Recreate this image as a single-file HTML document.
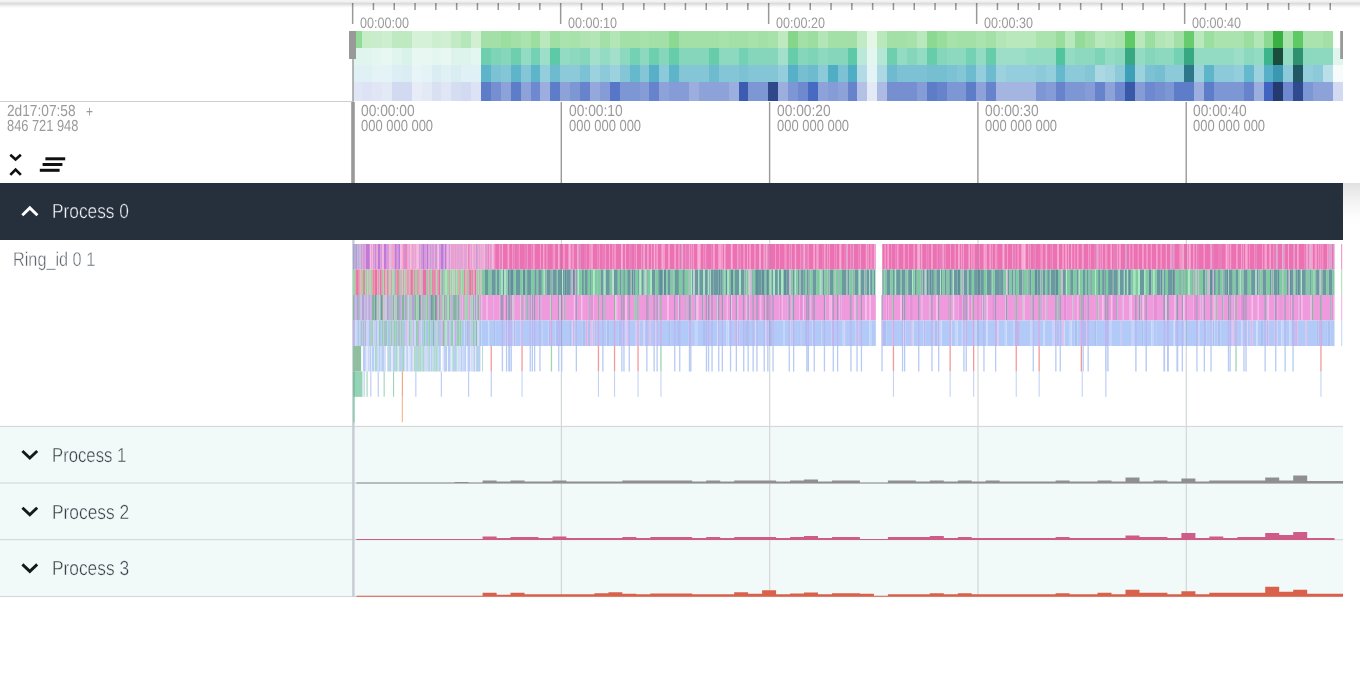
<!DOCTYPE html>
<html lang="en">
<head>
<meta charset="utf-8">
<title>Trace viewer</title>
<style>
html,body{margin:0;padding:0;background:#fff;overflow:hidden;}
body{width:1360px;height:681px;position:relative;overflow:hidden;font-family:"Liberation Sans",sans-serif;text-rendering:geometricPrecision;}
.lb{position:absolute;white-space:nowrap;transform-origin:0 50%;letter-spacing:0;}
.panel{position:absolute;left:0;width:1343px;}
#overview{top:0;height:102px;background:#fff;}
#ovborder{position:absolute;left:0;top:101px;width:352px;height:1px;background:#cfcfcf;}
#timeaxis{top:102px;height:81px;background:#fff;}
#group0{top:183px;height:57px;background:#262f3c;}
#ring{top:240px;height:186px;background:#fff;}
.grp{height:57px;background:#f2faf9;}
#group1{top:426px;}
#group2{top:483px;}
#group3{top:540px;}
#topshadow{position:absolute;left:0;top:0;width:1360px;height:9px;pointer-events:none;
 background:linear-gradient(to bottom,#f4f4f4 0px,#f1f1f1 1.5px,#e6e6e6 2.5px,#dcdcdc 3.5px,#e3e3e3 4.5px,#ededed 5.5px,#f6f6f6 6.5px,#fcfcfc 7.5px,#fff 9px);mix-blend-mode:multiply;}
#sideshadow{position:absolute;left:1343px;top:183px;width:17px;height:40px;background:linear-gradient(to bottom,#e1e1e1 0,#eaeaea 8px,#f4f4f4 20px,#fbfbfb 30px,#fff 40px);}
svg{position:absolute;left:0;top:0;overflow:visible;}
#gfx{pointer-events:none;}
.shell{position:absolute;left:0;top:0;width:352px;height:100%;}
</style>
</head>
<body>
<div id="overview" class="panel">
<div id="ovborder"></div>
<div class="lb ovl" style="left:360.10px;top:15px;font-size:15.0px;line-height:17px;height:17px;color:#9a9a9a;transform:scaleX(0.8399);">00:00:00</div>
<div class="lb ovl" style="left:568.10px;top:15px;font-size:15.0px;line-height:17px;height:17px;color:#9a9a9a;transform:scaleX(0.8399);">00:00:10</div>
<div class="lb ovl" style="left:776.10px;top:15px;font-size:15.0px;line-height:17px;height:17px;color:#9a9a9a;transform:scaleX(0.8399);">00:00:20</div>
<div class="lb ovl" style="left:984.10px;top:15px;font-size:15.0px;line-height:17px;height:17px;color:#9a9a9a;transform:scaleX(0.8399);">00:00:30</div>
<div class="lb ovl" style="left:1192.10px;top:15px;font-size:15.0px;line-height:17px;height:17px;color:#9a9a9a;transform:scaleX(0.8399);">00:00:40</div>
</div>
<div id="timeaxis" class="panel">
<div class="shell">
<div class="lb " style="left:7.22px;top:1px;font-size:16.0px;line-height:17px;height:17px;color:#9a9a9a;transform:scaleX(0.8558);">2d17:07:58</div>
<div class="lb " style="left:85.60px;top:2px;font-size:16.0px;line-height:17px;height:17px;color:#9a9a9a;transform:scaleX(0.7474);">+</div>
<div class="lb " style="left:7.32px;top:16px;font-size:16.0px;line-height:17px;height:17px;color:#9a9a9a;transform:scaleX(0.8014);">846 721 948</div>
</div>
</div>
<div id="group0" class="panel"><div class="shell"><div class="lb ttl" style="left:52.21px;top:18px;font-size:20.3px;line-height:22px;height:22px;color:#f2f4f6;transform:scaleX(0.8531);-webkit-text-stroke:0.4px #262f3c;">Process 0</div></div></div>
<div id="ring" class="panel"><div class="shell"><div class="lb ttl" style="left:12.60px;top:9px;font-size:20.0px;line-height:22px;height:22px;color:#5d666f;transform:scaleX(0.8124);-webkit-text-stroke:0.4px #fff;">Ring_id 0 1</div></div></div>
<div id="group1" class="panel grp"><div class="shell"><div class="lb ttl" style="left:52.26px;top:19px;font-size:20.3px;line-height:22px;height:22px;color:#364047;transform:scaleX(0.8243);-webkit-text-stroke:0.4px #f2faf9;">Process 1</div></div></div>
<div id="group2" class="panel grp"><div class="shell"><div class="lb ttl" style="left:52.21px;top:19px;font-size:20.3px;line-height:22px;height:22px;color:#364047;transform:scaleX(0.8551);-webkit-text-stroke:0.4px #f2faf9;">Process 2</div></div></div>
<div id="group3" class="panel grp"><div class="shell"><div class="lb ttl" style="left:52.21px;top:18px;font-size:20.3px;line-height:22px;height:22px;color:#364047;transform:scaleX(0.8541);-webkit-text-stroke:0.4px #f2faf9;">Process 3</div></div></div>
<div id="sideshadow"></div>
<div id="talabels">
<div class="lb tal" style="left:361.05px;top:103px;font-size:16.0px;line-height:17px;height:17px;color:#9a9a9a;transform:scaleX(0.8612);">00:00:00</div>
<div class="lb tal" style="left:361.08px;top:118px;font-size:16.0px;line-height:17px;height:17px;color:#9a9a9a;transform:scaleX(0.8098);">000 000 000</div>
<div class="lb tal" style="left:569.05px;top:103px;font-size:16.0px;line-height:17px;height:17px;color:#9a9a9a;transform:scaleX(0.8612);">00:00:10</div>
<div class="lb tal" style="left:569.08px;top:118px;font-size:16.0px;line-height:17px;height:17px;color:#9a9a9a;transform:scaleX(0.8098);">000 000 000</div>
<div class="lb tal" style="left:777.05px;top:103px;font-size:16.0px;line-height:17px;height:17px;color:#9a9a9a;transform:scaleX(0.8612);">00:00:20</div>
<div class="lb tal" style="left:777.08px;top:118px;font-size:16.0px;line-height:17px;height:17px;color:#9a9a9a;transform:scaleX(0.8098);">000 000 000</div>
<div class="lb tal" style="left:985.05px;top:103px;font-size:16.0px;line-height:17px;height:17px;color:#9a9a9a;transform:scaleX(0.8612);">00:00:30</div>
<div class="lb tal" style="left:985.08px;top:118px;font-size:16.0px;line-height:17px;height:17px;color:#9a9a9a;transform:scaleX(0.8098);">000 000 000</div>
<div class="lb tal" style="left:1193.05px;top:103px;font-size:16.0px;line-height:17px;height:17px;color:#9a9a9a;transform:scaleX(0.8612);">00:00:40</div>
<div class="lb tal" style="left:1193.08px;top:118px;font-size:16.0px;line-height:17px;height:17px;color:#9a9a9a;transform:scaleX(0.8098);">000 000 000</div>
</div>
<svg id="gfx" width="1360" height="681" viewBox="0 0 1360 681">
<!-- overview ticks -->
<g id="ticks">
<rect x="351.9" y="3" width="1.5" height="21" fill="#999"/>
<rect x="372.7" y="3" width="1.5" height="7" fill="#999"/>
<rect x="393.5" y="3" width="1.5" height="7" fill="#999"/>
<rect x="414.3" y="3" width="1.5" height="7" fill="#999"/>
<rect x="435.1" y="3" width="1.5" height="7" fill="#999"/>
<rect x="455.9" y="3" width="1.5" height="7" fill="#999"/>
<rect x="476.7" y="3" width="1.5" height="7" fill="#999"/>
<rect x="497.5" y="3" width="1.5" height="7" fill="#999"/>
<rect x="518.3" y="3" width="1.5" height="7" fill="#999"/>
<rect x="539.1" y="3" width="1.5" height="7" fill="#999"/>
<rect x="559.9" y="3" width="1.5" height="21" fill="#999"/>
<rect x="580.7" y="3" width="1.5" height="7" fill="#999"/>
<rect x="601.5" y="3" width="1.5" height="7" fill="#999"/>
<rect x="622.3" y="3" width="1.5" height="7" fill="#999"/>
<rect x="643.1" y="3" width="1.5" height="7" fill="#999"/>
<rect x="663.9" y="3" width="1.5" height="7" fill="#999"/>
<rect x="684.7" y="3" width="1.5" height="7" fill="#999"/>
<rect x="705.5" y="3" width="1.5" height="7" fill="#999"/>
<rect x="726.3" y="3" width="1.5" height="7" fill="#999"/>
<rect x="747.1" y="3" width="1.5" height="7" fill="#999"/>
<rect x="767.9" y="3" width="1.5" height="21" fill="#999"/>
<rect x="788.7" y="3" width="1.5" height="7" fill="#999"/>
<rect x="809.5" y="3" width="1.5" height="7" fill="#999"/>
<rect x="830.3" y="3" width="1.5" height="7" fill="#999"/>
<rect x="851.1" y="3" width="1.5" height="7" fill="#999"/>
<rect x="871.9" y="3" width="1.5" height="7" fill="#999"/>
<rect x="892.7" y="3" width="1.5" height="7" fill="#999"/>
<rect x="913.5" y="3" width="1.5" height="7" fill="#999"/>
<rect x="934.3" y="3" width="1.5" height="7" fill="#999"/>
<rect x="955.1" y="3" width="1.5" height="7" fill="#999"/>
<rect x="975.9" y="3" width="1.5" height="21" fill="#999"/>
<rect x="996.7" y="3" width="1.5" height="7" fill="#999"/>
<rect x="1017.5" y="3" width="1.5" height="7" fill="#999"/>
<rect x="1038.3" y="3" width="1.5" height="7" fill="#999"/>
<rect x="1059.1" y="3" width="1.5" height="7" fill="#999"/>
<rect x="1079.9" y="3" width="1.5" height="7" fill="#999"/>
<rect x="1100.7" y="3" width="1.5" height="7" fill="#999"/>
<rect x="1121.5" y="3" width="1.5" height="7" fill="#999"/>
<rect x="1142.3" y="3" width="1.5" height="7" fill="#999"/>
<rect x="1163.1" y="3" width="1.5" height="7" fill="#999"/>
<rect x="1183.9" y="3" width="1.5" height="21" fill="#999"/>
<rect x="1204.7" y="3" width="1.5" height="7" fill="#999"/>
<rect x="1225.5" y="3" width="1.5" height="7" fill="#999"/>
<rect x="1246.3" y="3" width="1.5" height="7" fill="#999"/>
<rect x="1267.1" y="3" width="1.5" height="7" fill="#999"/>
<rect x="1287.9" y="3" width="1.5" height="7" fill="#999"/>
<rect x="1308.7" y="3" width="1.5" height="7" fill="#999"/>
<rect x="1329.5" y="3" width="1.5" height="7" fill="#999"/>
</g>
<!-- overview heat map -->
<g id="heat" shape-rendering="crispEdges">
<rect x="353" y="31" width="9" height="17.0" fill="hsl(124,50%,72%)"/>
<rect x="362" y="31" width="10" height="17.0" fill="hsl(124,50%,85%)"/>
<rect x="372" y="31" width="10" height="17.0" fill="hsl(124,50%,86%)"/>
<rect x="382" y="31" width="10" height="17.0" fill="hsl(124,50%,87%)"/>
<rect x="392" y="31" width="10" height="17.0" fill="hsl(124,50%,83%)"/>
<rect x="402" y="31" width="10" height="17.0" fill="hsl(124,50%,83%)"/>
<rect x="412" y="31" width="10" height="17.0" fill="hsl(124,50%,89%)"/>
<rect x="422" y="31" width="10" height="17.0" fill="hsl(124,50%,89%)"/>
<rect x="432" y="31" width="9" height="17.0" fill="hsl(124,50%,87%)"/>
<rect x="441" y="31" width="10" height="17.0" fill="hsl(124,50%,88%)"/>
<rect x="451" y="31" width="10" height="17.0" fill="hsl(124,50%,84%)"/>
<rect x="461" y="31" width="10" height="17.0" fill="hsl(124,50%,81%)"/>
<rect x="471" y="31" width="10" height="17.0" fill="hsl(124,50%,88%)"/>
<rect x="481" y="31" width="10" height="17.0" fill="hsl(124,50%,76%)"/>
<rect x="491" y="31" width="10" height="17.0" fill="hsl(124,50%,76%)"/>
<rect x="501" y="31" width="10" height="17.0" fill="hsl(124,50%,74%)"/>
<rect x="511" y="31" width="10" height="17.0" fill="hsl(124,50%,76%)"/>
<rect x="521" y="31" width="10" height="17.0" fill="hsl(124,50%,78%)"/>
<rect x="531" y="31" width="9" height="17.0" fill="hsl(124,50%,74%)"/>
<rect x="540" y="31" width="10" height="17.0" fill="hsl(124,50%,82%)"/>
<rect x="550" y="31" width="10" height="17.0" fill="hsl(124,50%,75%)"/>
<rect x="560" y="31" width="10" height="17.0" fill="hsl(124,50%,78%)"/>
<rect x="570" y="31" width="10" height="17.0" fill="hsl(124,50%,77%)"/>
<rect x="580" y="31" width="10" height="17.0" fill="hsl(124,50%,79%)"/>
<rect x="590" y="31" width="10" height="17.0" fill="hsl(124,50%,80%)"/>
<rect x="600" y="31" width="10" height="17.0" fill="hsl(124,50%,76%)"/>
<rect x="610" y="31" width="10" height="17.0" fill="hsl(124,50%,80%)"/>
<rect x="620" y="31" width="10" height="17.0" fill="hsl(124,50%,76%)"/>
<rect x="630" y="31" width="10" height="17.0" fill="hsl(124,50%,76%)"/>
<rect x="640" y="31" width="9" height="17.0" fill="hsl(124,50%,77%)"/>
<rect x="649" y="31" width="10" height="17.0" fill="hsl(124,50%,76%)"/>
<rect x="659" y="31" width="10" height="17.0" fill="hsl(124,50%,76%)"/>
<rect x="669" y="31" width="10" height="17.0" fill="hsl(124,50%,70%)"/>
<rect x="679" y="31" width="10" height="17.0" fill="hsl(124,50%,76%)"/>
<rect x="689" y="31" width="10" height="17.0" fill="hsl(124,50%,76%)"/>
<rect x="699" y="31" width="10" height="17.0" fill="hsl(124,50%,76%)"/>
<rect x="709" y="31" width="10" height="17.0" fill="hsl(124,50%,76%)"/>
<rect x="719" y="31" width="10" height="17.0" fill="hsl(124,50%,77%)"/>
<rect x="729" y="31" width="10" height="17.0" fill="hsl(124,50%,76%)"/>
<rect x="739" y="31" width="9" height="17.0" fill="hsl(124,50%,76%)"/>
<rect x="748" y="31" width="10" height="17.0" fill="hsl(124,50%,77%)"/>
<rect x="758" y="31" width="10" height="17.0" fill="hsl(124,50%,76%)"/>
<rect x="768" y="31" width="10" height="17.0" fill="hsl(124,50%,77%)"/>
<rect x="778" y="31" width="10" height="17.0" fill="hsl(124,50%,83%)"/>
<rect x="788" y="31" width="10" height="17.0" fill="hsl(124,50%,68%)"/>
<rect x="798" y="31" width="10" height="17.0" fill="hsl(124,50%,76%)"/>
<rect x="808" y="31" width="10" height="17.0" fill="hsl(124,50%,74%)"/>
<rect x="818" y="31" width="10" height="17.0" fill="hsl(124,50%,80%)"/>
<rect x="828" y="31" width="10" height="17.0" fill="hsl(124,50%,76%)"/>
<rect x="838" y="31" width="10" height="17.0" fill="hsl(124,50%,76%)"/>
<rect x="848" y="31" width="9" height="17.0" fill="hsl(124,50%,76%)"/>
<rect x="857" y="31" width="10" height="17.0" fill="hsl(124,50%,84%)"/>
<rect x="867" y="31" width="10" height="17.0" fill="hsl(124,50%,93%)"/>
<rect x="877" y="31" width="10" height="17.0" fill="hsl(124,50%,82%)"/>
<rect x="887" y="31" width="10" height="17.0" fill="hsl(124,50%,76%)"/>
<rect x="897" y="31" width="10" height="17.0" fill="hsl(124,50%,76%)"/>
<rect x="907" y="31" width="10" height="17.0" fill="hsl(124,50%,77%)"/>
<rect x="917" y="31" width="10" height="17.0" fill="hsl(124,50%,82%)"/>
<rect x="927" y="31" width="10" height="17.0" fill="hsl(124,50%,70%)"/>
<rect x="937" y="31" width="10" height="17.0" fill="hsl(124,50%,73%)"/>
<rect x="947" y="31" width="10" height="17.0" fill="hsl(124,50%,77%)"/>
<rect x="957" y="31" width="9" height="17.0" fill="hsl(124,50%,76%)"/>
<rect x="966" y="31" width="10" height="17.0" fill="hsl(124,50%,76%)"/>
<rect x="976" y="31" width="10" height="17.0" fill="hsl(124,50%,78%)"/>
<rect x="986" y="31" width="10" height="17.0" fill="hsl(124,50%,76%)"/>
<rect x="996" y="31" width="10" height="17.0" fill="hsl(124,50%,80%)"/>
<rect x="1006" y="31" width="10" height="17.0" fill="hsl(124,50%,82%)"/>
<rect x="1016" y="31" width="10" height="17.0" fill="hsl(124,50%,82%)"/>
<rect x="1026" y="31" width="10" height="17.0" fill="hsl(124,50%,82%)"/>
<rect x="1036" y="31" width="10" height="17.0" fill="hsl(124,50%,78%)"/>
<rect x="1046" y="31" width="10" height="17.0" fill="hsl(124,50%,78%)"/>
<rect x="1056" y="31" width="9" height="17.0" fill="hsl(124,50%,73%)"/>
<rect x="1065" y="31" width="10" height="17.0" fill="hsl(124,50%,82%)"/>
<rect x="1075" y="31" width="10" height="17.0" fill="hsl(124,50%,72%)"/>
<rect x="1085" y="31" width="10" height="17.0" fill="hsl(124,50%,76%)"/>
<rect x="1095" y="31" width="10" height="17.0" fill="hsl(124,50%,82%)"/>
<rect x="1105" y="31" width="10" height="17.0" fill="hsl(124,50%,80%)"/>
<rect x="1115" y="31" width="10" height="17.0" fill="hsl(124,50%,78%)"/>
<rect x="1125" y="31" width="10" height="17.0" fill="hsl(124,50%,58%)"/>
<rect x="1135" y="31" width="10" height="17.0" fill="hsl(124,50%,82%)"/>
<rect x="1145" y="31" width="10" height="17.0" fill="hsl(124,50%,74%)"/>
<rect x="1155" y="31" width="10" height="17.0" fill="hsl(124,50%,80%)"/>
<rect x="1165" y="31" width="9" height="17.0" fill="hsl(124,50%,82%)"/>
<rect x="1174" y="31" width="10" height="17.0" fill="hsl(124,50%,76%)"/>
<rect x="1184" y="31" width="10" height="17.0" fill="hsl(124,50%,60%)"/>
<rect x="1194" y="31" width="10" height="17.0" fill="hsl(124,50%,82%)"/>
<rect x="1204" y="31" width="10" height="17.0" fill="hsl(124,50%,74%)"/>
<rect x="1214" y="31" width="10" height="17.0" fill="hsl(124,50%,78%)"/>
<rect x="1224" y="31" width="10" height="17.0" fill="hsl(124,50%,78%)"/>
<rect x="1234" y="31" width="10" height="17.0" fill="hsl(124,50%,78%)"/>
<rect x="1244" y="31" width="10" height="17.0" fill="hsl(124,50%,74%)"/>
<rect x="1254" y="31" width="10" height="17.0" fill="hsl(124,50%,80%)"/>
<rect x="1264" y="31" width="9" height="17.0" fill="hsl(124,50%,70%)"/>
<rect x="1273" y="31" width="10" height="17.0" fill="hsl(124,50%,46%)"/>
<rect x="1283" y="31" width="10" height="17.0" fill="hsl(124,50%,78%)"/>
<rect x="1293" y="31" width="10" height="17.0" fill="hsl(124,50%,58%)"/>
<rect x="1303" y="31" width="10" height="17.0" fill="hsl(124,50%,78%)"/>
<rect x="1313" y="31" width="10" height="17.0" fill="hsl(124,50%,78%)"/>
<rect x="1323" y="31" width="10" height="17.0" fill="hsl(124,50%,76%)"/>
<rect x="1333" y="31" width="10" height="17.0" fill="hsl(124,50%,99%)"/>
<rect x="353" y="48" width="9" height="17.0" fill="hsl(160,50%,92%)"/>
<rect x="362" y="48" width="10" height="17.0" fill="hsl(160,50%,92%)"/>
<rect x="372" y="48" width="10" height="17.0" fill="hsl(160,50%,93%)"/>
<rect x="382" y="48" width="10" height="17.0" fill="hsl(160,50%,94%)"/>
<rect x="392" y="48" width="10" height="17.0" fill="hsl(160,50%,92%)"/>
<rect x="402" y="48" width="10" height="17.0" fill="hsl(160,50%,90%)"/>
<rect x="412" y="48" width="10" height="17.0" fill="hsl(160,50%,94%)"/>
<rect x="422" y="48" width="10" height="17.0" fill="hsl(160,50%,94%)"/>
<rect x="432" y="48" width="9" height="17.0" fill="hsl(160,50%,93%)"/>
<rect x="441" y="48" width="10" height="17.0" fill="hsl(160,50%,94%)"/>
<rect x="451" y="48" width="10" height="17.0" fill="hsl(160,50%,91%)"/>
<rect x="461" y="48" width="10" height="17.0" fill="hsl(160,50%,91%)"/>
<rect x="471" y="48" width="10" height="17.0" fill="hsl(160,50%,93%)"/>
<rect x="481" y="48" width="10" height="17.0" fill="hsl(160,50%,62%)"/>
<rect x="491" y="48" width="10" height="17.0" fill="hsl(160,50%,66%)"/>
<rect x="501" y="48" width="10" height="17.0" fill="hsl(160,50%,68%)"/>
<rect x="511" y="48" width="10" height="17.0" fill="hsl(160,50%,62%)"/>
<rect x="521" y="48" width="10" height="17.0" fill="hsl(160,50%,72%)"/>
<rect x="531" y="48" width="9" height="17.0" fill="hsl(160,50%,64%)"/>
<rect x="540" y="48" width="10" height="17.0" fill="hsl(160,50%,74%)"/>
<rect x="550" y="48" width="10" height="17.0" fill="hsl(160,50%,58%)"/>
<rect x="560" y="48" width="10" height="17.0" fill="hsl(160,50%,72%)"/>
<rect x="570" y="48" width="10" height="17.0" fill="hsl(160,50%,70%)"/>
<rect x="580" y="48" width="10" height="17.0" fill="hsl(160,50%,68%)"/>
<rect x="590" y="48" width="10" height="17.0" fill="hsl(160,50%,76%)"/>
<rect x="600" y="48" width="10" height="17.0" fill="hsl(160,50%,72%)"/>
<rect x="610" y="48" width="10" height="17.0" fill="hsl(160,50%,76%)"/>
<rect x="620" y="48" width="10" height="17.0" fill="hsl(160,50%,70%)"/>
<rect x="630" y="48" width="10" height="17.0" fill="hsl(160,50%,64%)"/>
<rect x="640" y="48" width="9" height="17.0" fill="hsl(160,50%,70%)"/>
<rect x="649" y="48" width="10" height="17.0" fill="hsl(160,50%,62%)"/>
<rect x="659" y="48" width="10" height="17.0" fill="hsl(160,50%,68%)"/>
<rect x="669" y="48" width="10" height="17.0" fill="hsl(160,50%,60%)"/>
<rect x="679" y="48" width="10" height="17.0" fill="hsl(160,50%,68%)"/>
<rect x="689" y="48" width="10" height="17.0" fill="hsl(160,50%,68%)"/>
<rect x="699" y="48" width="10" height="17.0" fill="hsl(160,50%,68%)"/>
<rect x="709" y="48" width="10" height="17.0" fill="hsl(160,50%,60%)"/>
<rect x="719" y="48" width="10" height="17.0" fill="hsl(160,50%,70%)"/>
<rect x="729" y="48" width="10" height="17.0" fill="hsl(160,50%,70%)"/>
<rect x="739" y="48" width="9" height="17.0" fill="hsl(160,50%,64%)"/>
<rect x="748" y="48" width="10" height="17.0" fill="hsl(160,50%,68%)"/>
<rect x="758" y="48" width="10" height="17.0" fill="hsl(160,50%,68%)"/>
<rect x="768" y="48" width="10" height="17.0" fill="hsl(160,50%,68%)"/>
<rect x="778" y="48" width="10" height="17.0" fill="hsl(160,50%,76%)"/>
<rect x="788" y="48" width="10" height="17.0" fill="hsl(160,50%,60%)"/>
<rect x="798" y="48" width="10" height="17.0" fill="hsl(160,50%,68%)"/>
<rect x="808" y="48" width="10" height="17.0" fill="hsl(160,50%,66%)"/>
<rect x="818" y="48" width="10" height="17.0" fill="hsl(160,50%,70%)"/>
<rect x="828" y="48" width="10" height="17.0" fill="hsl(160,50%,68%)"/>
<rect x="838" y="48" width="10" height="17.0" fill="hsl(160,50%,68%)"/>
<rect x="848" y="48" width="9" height="17.0" fill="hsl(160,50%,58%)"/>
<rect x="857" y="48" width="10" height="17.0" fill="hsl(160,50%,82%)"/>
<rect x="867" y="48" width="10" height="17.0" fill="hsl(160,50%,93%)"/>
<rect x="877" y="48" width="10" height="17.0" fill="hsl(160,50%,80%)"/>
<rect x="887" y="48" width="10" height="17.0" fill="hsl(160,50%,62%)"/>
<rect x="897" y="48" width="10" height="17.0" fill="hsl(160,50%,72%)"/>
<rect x="907" y="48" width="10" height="17.0" fill="hsl(160,50%,68%)"/>
<rect x="917" y="48" width="10" height="17.0" fill="hsl(160,50%,72%)"/>
<rect x="927" y="48" width="10" height="17.0" fill="hsl(160,50%,60%)"/>
<rect x="937" y="48" width="10" height="17.0" fill="hsl(160,50%,68%)"/>
<rect x="947" y="48" width="10" height="17.0" fill="hsl(160,50%,70%)"/>
<rect x="957" y="48" width="9" height="17.0" fill="hsl(160,50%,70%)"/>
<rect x="966" y="48" width="10" height="17.0" fill="hsl(160,50%,64%)"/>
<rect x="976" y="48" width="10" height="17.0" fill="hsl(160,50%,72%)"/>
<rect x="986" y="48" width="10" height="17.0" fill="hsl(160,50%,60%)"/>
<rect x="996" y="48" width="10" height="17.0" fill="hsl(160,50%,74%)"/>
<rect x="1006" y="48" width="10" height="17.0" fill="hsl(160,50%,74%)"/>
<rect x="1016" y="48" width="10" height="17.0" fill="hsl(160,50%,74%)"/>
<rect x="1026" y="48" width="10" height="17.0" fill="hsl(160,50%,72%)"/>
<rect x="1036" y="48" width="10" height="17.0" fill="hsl(160,50%,72%)"/>
<rect x="1046" y="48" width="10" height="17.0" fill="hsl(160,50%,72%)"/>
<rect x="1056" y="48" width="9" height="17.0" fill="hsl(160,50%,54%)"/>
<rect x="1065" y="48" width="10" height="17.0" fill="hsl(160,50%,72%)"/>
<rect x="1075" y="48" width="10" height="17.0" fill="hsl(160,50%,70%)"/>
<rect x="1085" y="48" width="10" height="17.0" fill="hsl(160,50%,70%)"/>
<rect x="1095" y="48" width="10" height="17.0" fill="hsl(160,50%,66%)"/>
<rect x="1105" y="48" width="10" height="17.0" fill="hsl(160,50%,72%)"/>
<rect x="1115" y="48" width="10" height="17.0" fill="hsl(160,50%,70%)"/>
<rect x="1125" y="48" width="10" height="17.0" fill="hsl(160,50%,44%)"/>
<rect x="1135" y="48" width="10" height="17.0" fill="hsl(160,50%,72%)"/>
<rect x="1145" y="48" width="10" height="17.0" fill="hsl(160,50%,68%)"/>
<rect x="1155" y="48" width="10" height="17.0" fill="hsl(160,50%,70%)"/>
<rect x="1165" y="48" width="9" height="17.0" fill="hsl(160,50%,70%)"/>
<rect x="1174" y="48" width="10" height="17.0" fill="hsl(160,50%,64%)"/>
<rect x="1184" y="48" width="10" height="17.0" fill="hsl(160,50%,44%)"/>
<rect x="1194" y="48" width="10" height="17.0" fill="hsl(160,50%,72%)"/>
<rect x="1204" y="48" width="10" height="17.0" fill="hsl(160,50%,72%)"/>
<rect x="1214" y="48" width="10" height="17.0" fill="hsl(160,50%,72%)"/>
<rect x="1224" y="48" width="10" height="17.0" fill="hsl(160,50%,72%)"/>
<rect x="1234" y="48" width="10" height="17.0" fill="hsl(160,50%,74%)"/>
<rect x="1244" y="48" width="10" height="17.0" fill="hsl(160,50%,70%)"/>
<rect x="1254" y="48" width="10" height="17.0" fill="hsl(160,50%,72%)"/>
<rect x="1264" y="48" width="9" height="17.0" fill="hsl(160,50%,47%)"/>
<rect x="1273" y="48" width="10" height="17.0" fill="hsl(160,50%,20%)"/>
<rect x="1283" y="48" width="10" height="17.0" fill="hsl(160,50%,72%)"/>
<rect x="1293" y="48" width="10" height="17.0" fill="hsl(160,50%,38%)"/>
<rect x="1303" y="48" width="10" height="17.0" fill="hsl(160,50%,70%)"/>
<rect x="1313" y="48" width="10" height="17.0" fill="hsl(160,50%,70%)"/>
<rect x="1323" y="48" width="10" height="17.0" fill="hsl(160,50%,70%)"/>
<rect x="1333" y="48" width="10" height="17.0" fill="hsl(160,50%,92%)"/>
<rect x="353" y="65" width="9" height="17.0" fill="hsl(192,50%,92%)"/>
<rect x="362" y="65" width="10" height="17.0" fill="hsl(192,50%,92%)"/>
<rect x="372" y="65" width="10" height="17.0" fill="hsl(192,50%,93%)"/>
<rect x="382" y="65" width="10" height="17.0" fill="hsl(192,50%,93%)"/>
<rect x="392" y="65" width="10" height="17.0" fill="hsl(192,50%,91%)"/>
<rect x="402" y="65" width="10" height="17.0" fill="hsl(192,50%,90%)"/>
<rect x="412" y="65" width="10" height="17.0" fill="hsl(192,50%,94%)"/>
<rect x="422" y="65" width="10" height="17.0" fill="hsl(192,50%,93%)"/>
<rect x="432" y="65" width="9" height="17.0" fill="hsl(192,50%,90%)"/>
<rect x="441" y="65" width="10" height="17.0" fill="hsl(192,50%,92%)"/>
<rect x="451" y="65" width="10" height="17.0" fill="hsl(192,50%,90%)"/>
<rect x="461" y="65" width="10" height="17.0" fill="hsl(192,50%,92%)"/>
<rect x="471" y="65" width="10" height="17.0" fill="hsl(192,50%,92%)"/>
<rect x="481" y="65" width="10" height="17.0" fill="hsl(192,50%,58%)"/>
<rect x="491" y="65" width="10" height="17.0" fill="hsl(192,50%,66%)"/>
<rect x="501" y="65" width="10" height="17.0" fill="hsl(192,50%,68%)"/>
<rect x="511" y="65" width="10" height="17.0" fill="hsl(192,50%,58%)"/>
<rect x="521" y="65" width="10" height="17.0" fill="hsl(192,50%,68%)"/>
<rect x="531" y="65" width="9" height="17.0" fill="hsl(192,50%,58%)"/>
<rect x="540" y="65" width="10" height="17.0" fill="hsl(192,50%,72%)"/>
<rect x="550" y="65" width="10" height="17.0" fill="hsl(192,50%,62%)"/>
<rect x="560" y="65" width="10" height="17.0" fill="hsl(192,50%,70%)"/>
<rect x="570" y="65" width="10" height="17.0" fill="hsl(192,50%,70%)"/>
<rect x="580" y="65" width="10" height="17.0" fill="hsl(192,50%,66%)"/>
<rect x="590" y="65" width="10" height="17.0" fill="hsl(192,50%,74%)"/>
<rect x="600" y="65" width="10" height="17.0" fill="hsl(192,50%,70%)"/>
<rect x="610" y="65" width="10" height="17.0" fill="hsl(192,50%,74%)"/>
<rect x="620" y="65" width="10" height="17.0" fill="hsl(192,50%,68%)"/>
<rect x="630" y="65" width="10" height="17.0" fill="hsl(192,50%,60%)"/>
<rect x="640" y="65" width="9" height="17.0" fill="hsl(192,50%,68%)"/>
<rect x="649" y="65" width="10" height="17.0" fill="hsl(192,50%,56%)"/>
<rect x="659" y="65" width="10" height="17.0" fill="hsl(192,50%,70%)"/>
<rect x="669" y="65" width="10" height="17.0" fill="hsl(192,50%,58%)"/>
<rect x="679" y="65" width="10" height="17.0" fill="hsl(192,50%,68%)"/>
<rect x="689" y="65" width="10" height="17.0" fill="hsl(192,50%,68%)"/>
<rect x="699" y="65" width="10" height="17.0" fill="hsl(192,50%,68%)"/>
<rect x="709" y="65" width="10" height="17.0" fill="hsl(192,50%,62%)"/>
<rect x="719" y="65" width="10" height="17.0" fill="hsl(192,50%,68%)"/>
<rect x="729" y="65" width="10" height="17.0" fill="hsl(192,50%,68%)"/>
<rect x="739" y="65" width="9" height="17.0" fill="hsl(192,50%,66%)"/>
<rect x="748" y="65" width="10" height="17.0" fill="hsl(192,50%,68%)"/>
<rect x="758" y="65" width="10" height="17.0" fill="hsl(192,50%,68%)"/>
<rect x="768" y="65" width="10" height="17.0" fill="hsl(192,50%,68%)"/>
<rect x="778" y="65" width="10" height="17.0" fill="hsl(192,50%,72%)"/>
<rect x="788" y="65" width="10" height="17.0" fill="hsl(192,50%,56%)"/>
<rect x="798" y="65" width="10" height="17.0" fill="hsl(192,50%,64%)"/>
<rect x="808" y="65" width="10" height="17.0" fill="hsl(192,50%,62%)"/>
<rect x="818" y="65" width="10" height="17.0" fill="hsl(192,50%,70%)"/>
<rect x="828" y="65" width="10" height="17.0" fill="hsl(192,50%,54%)"/>
<rect x="838" y="65" width="10" height="17.0" fill="hsl(192,50%,66%)"/>
<rect x="848" y="65" width="9" height="17.0" fill="hsl(192,50%,54%)"/>
<rect x="857" y="65" width="10" height="17.0" fill="hsl(192,50%,80%)"/>
<rect x="867" y="65" width="10" height="17.0" fill="hsl(192,50%,93%)"/>
<rect x="877" y="65" width="10" height="17.0" fill="hsl(192,50%,78%)"/>
<rect x="887" y="65" width="10" height="17.0" fill="hsl(192,50%,62%)"/>
<rect x="897" y="65" width="10" height="17.0" fill="hsl(192,50%,66%)"/>
<rect x="907" y="65" width="10" height="17.0" fill="hsl(192,50%,66%)"/>
<rect x="917" y="65" width="10" height="17.0" fill="hsl(192,50%,66%)"/>
<rect x="927" y="65" width="10" height="17.0" fill="hsl(192,50%,64%)"/>
<rect x="937" y="65" width="10" height="17.0" fill="hsl(192,50%,64%)"/>
<rect x="947" y="65" width="10" height="17.0" fill="hsl(192,50%,66%)"/>
<rect x="957" y="65" width="9" height="17.0" fill="hsl(192,50%,68%)"/>
<rect x="966" y="65" width="10" height="17.0" fill="hsl(192,50%,62%)"/>
<rect x="976" y="65" width="10" height="17.0" fill="hsl(192,50%,72%)"/>
<rect x="986" y="65" width="10" height="17.0" fill="hsl(192,50%,62%)"/>
<rect x="996" y="65" width="10" height="17.0" fill="hsl(192,50%,74%)"/>
<rect x="1006" y="65" width="10" height="17.0" fill="hsl(192,50%,72%)"/>
<rect x="1016" y="65" width="10" height="17.0" fill="hsl(192,50%,72%)"/>
<rect x="1026" y="65" width="10" height="17.0" fill="hsl(192,50%,72%)"/>
<rect x="1036" y="65" width="10" height="17.0" fill="hsl(192,50%,70%)"/>
<rect x="1046" y="65" width="10" height="17.0" fill="hsl(192,50%,72%)"/>
<rect x="1056" y="65" width="9" height="17.0" fill="hsl(192,50%,60%)"/>
<rect x="1065" y="65" width="10" height="17.0" fill="hsl(192,50%,70%)"/>
<rect x="1075" y="65" width="10" height="17.0" fill="hsl(192,50%,70%)"/>
<rect x="1085" y="65" width="10" height="17.0" fill="hsl(192,50%,68%)"/>
<rect x="1095" y="65" width="10" height="17.0" fill="hsl(192,50%,78%)"/>
<rect x="1105" y="65" width="10" height="17.0" fill="hsl(192,50%,76%)"/>
<rect x="1115" y="65" width="10" height="17.0" fill="hsl(192,50%,70%)"/>
<rect x="1125" y="65" width="10" height="17.0" fill="hsl(192,50%,48%)"/>
<rect x="1135" y="65" width="10" height="17.0" fill="hsl(192,50%,74%)"/>
<rect x="1145" y="65" width="10" height="17.0" fill="hsl(192,50%,66%)"/>
<rect x="1155" y="65" width="10" height="17.0" fill="hsl(192,50%,64%)"/>
<rect x="1165" y="65" width="9" height="17.0" fill="hsl(192,50%,70%)"/>
<rect x="1174" y="65" width="10" height="17.0" fill="hsl(192,50%,70%)"/>
<rect x="1184" y="65" width="10" height="17.0" fill="hsl(192,50%,36%)"/>
<rect x="1194" y="65" width="10" height="17.0" fill="hsl(192,50%,74%)"/>
<rect x="1204" y="65" width="10" height="17.0" fill="hsl(192,50%,58%)"/>
<rect x="1214" y="65" width="10" height="17.0" fill="hsl(192,50%,70%)"/>
<rect x="1224" y="65" width="10" height="17.0" fill="hsl(192,50%,70%)"/>
<rect x="1234" y="65" width="10" height="17.0" fill="hsl(192,50%,72%)"/>
<rect x="1244" y="65" width="10" height="17.0" fill="hsl(192,50%,60%)"/>
<rect x="1254" y="65" width="10" height="17.0" fill="hsl(192,50%,74%)"/>
<rect x="1264" y="65" width="9" height="17.0" fill="hsl(192,50%,56%)"/>
<rect x="1273" y="65" width="10" height="17.0" fill="hsl(192,50%,46%)"/>
<rect x="1283" y="65" width="10" height="17.0" fill="hsl(192,50%,70%)"/>
<rect x="1293" y="65" width="10" height="17.0" fill="hsl(192,50%,26%)"/>
<rect x="1303" y="65" width="10" height="17.0" fill="hsl(192,50%,72%)"/>
<rect x="1313" y="65" width="10" height="17.0" fill="hsl(192,50%,70%)"/>
<rect x="1323" y="65" width="10" height="17.0" fill="hsl(192,50%,82%)"/>
<rect x="1333" y="65" width="10" height="17.0" fill="hsl(192,50%,98%)"/>
<rect x="353" y="82" width="9" height="19.0" fill="hsl(223,50%,92%)"/>
<rect x="362" y="82" width="10" height="19.0" fill="hsl(223,50%,91%)"/>
<rect x="372" y="82" width="10" height="19.0" fill="hsl(223,50%,92%)"/>
<rect x="382" y="82" width="10" height="19.0" fill="hsl(223,50%,93%)"/>
<rect x="392" y="82" width="10" height="19.0" fill="hsl(223,50%,88%)"/>
<rect x="402" y="82" width="10" height="19.0" fill="hsl(223,50%,88%)"/>
<rect x="412" y="82" width="10" height="19.0" fill="hsl(223,50%,94%)"/>
<rect x="422" y="82" width="10" height="19.0" fill="hsl(223,50%,93%)"/>
<rect x="432" y="82" width="9" height="19.0" fill="hsl(223,50%,90%)"/>
<rect x="441" y="82" width="10" height="19.0" fill="hsl(223,50%,92%)"/>
<rect x="451" y="82" width="10" height="19.0" fill="hsl(223,50%,89%)"/>
<rect x="461" y="82" width="10" height="19.0" fill="hsl(223,50%,88%)"/>
<rect x="471" y="82" width="10" height="19.0" fill="hsl(223,50%,91%)"/>
<rect x="481" y="82" width="10" height="19.0" fill="hsl(223,50%,58%)"/>
<rect x="491" y="82" width="10" height="19.0" fill="hsl(223,50%,64%)"/>
<rect x="501" y="82" width="10" height="19.0" fill="hsl(223,50%,70%)"/>
<rect x="511" y="82" width="10" height="19.0" fill="hsl(223,50%,58%)"/>
<rect x="521" y="82" width="10" height="19.0" fill="hsl(223,50%,70%)"/>
<rect x="531" y="82" width="9" height="19.0" fill="hsl(223,50%,62%)"/>
<rect x="540" y="82" width="10" height="19.0" fill="hsl(223,50%,74%)"/>
<rect x="550" y="82" width="10" height="19.0" fill="hsl(223,50%,58%)"/>
<rect x="560" y="82" width="10" height="19.0" fill="hsl(223,50%,70%)"/>
<rect x="570" y="82" width="10" height="19.0" fill="hsl(223,50%,66%)"/>
<rect x="580" y="82" width="10" height="19.0" fill="hsl(223,50%,60%)"/>
<rect x="590" y="82" width="10" height="19.0" fill="hsl(223,50%,72%)"/>
<rect x="600" y="82" width="10" height="19.0" fill="hsl(223,50%,68%)"/>
<rect x="610" y="82" width="10" height="19.0" fill="hsl(223,50%,56%)"/>
<rect x="620" y="82" width="10" height="19.0" fill="hsl(223,50%,66%)"/>
<rect x="630" y="82" width="10" height="19.0" fill="hsl(223,50%,66%)"/>
<rect x="640" y="82" width="9" height="19.0" fill="hsl(223,50%,68%)"/>
<rect x="649" y="82" width="10" height="19.0" fill="hsl(223,50%,60%)"/>
<rect x="659" y="82" width="10" height="19.0" fill="hsl(223,50%,70%)"/>
<rect x="669" y="82" width="10" height="19.0" fill="hsl(223,50%,68%)"/>
<rect x="679" y="82" width="10" height="19.0" fill="hsl(223,50%,68%)"/>
<rect x="689" y="82" width="10" height="19.0" fill="hsl(223,50%,74%)"/>
<rect x="699" y="82" width="10" height="19.0" fill="hsl(223,50%,70%)"/>
<rect x="709" y="82" width="10" height="19.0" fill="hsl(223,50%,70%)"/>
<rect x="719" y="82" width="10" height="19.0" fill="hsl(223,50%,70%)"/>
<rect x="729" y="82" width="10" height="19.0" fill="hsl(223,50%,74%)"/>
<rect x="739" y="82" width="9" height="19.0" fill="hsl(223,50%,46%)"/>
<rect x="748" y="82" width="10" height="19.0" fill="hsl(223,50%,66%)"/>
<rect x="758" y="82" width="10" height="19.0" fill="hsl(223,50%,66%)"/>
<rect x="768" y="82" width="10" height="19.0" fill="hsl(223,50%,36%)"/>
<rect x="778" y="82" width="10" height="19.0" fill="hsl(223,50%,74%)"/>
<rect x="788" y="82" width="10" height="19.0" fill="hsl(223,50%,66%)"/>
<rect x="798" y="82" width="10" height="19.0" fill="hsl(223,50%,62%)"/>
<rect x="808" y="82" width="10" height="19.0" fill="hsl(223,50%,52%)"/>
<rect x="818" y="82" width="10" height="19.0" fill="hsl(223,50%,70%)"/>
<rect x="828" y="82" width="10" height="19.0" fill="hsl(223,50%,68%)"/>
<rect x="838" y="82" width="10" height="19.0" fill="hsl(223,50%,70%)"/>
<rect x="848" y="82" width="9" height="19.0" fill="hsl(223,50%,60%)"/>
<rect x="857" y="82" width="10" height="19.0" fill="hsl(223,50%,80%)"/>
<rect x="867" y="82" width="10" height="19.0" fill="hsl(223,50%,93%)"/>
<rect x="877" y="82" width="10" height="19.0" fill="hsl(223,50%,78%)"/>
<rect x="887" y="82" width="10" height="19.0" fill="hsl(223,50%,64%)"/>
<rect x="897" y="82" width="10" height="19.0" fill="hsl(223,50%,64%)"/>
<rect x="907" y="82" width="10" height="19.0" fill="hsl(223,50%,64%)"/>
<rect x="917" y="82" width="10" height="19.0" fill="hsl(223,50%,68%)"/>
<rect x="927" y="82" width="10" height="19.0" fill="hsl(223,50%,58%)"/>
<rect x="937" y="82" width="10" height="19.0" fill="hsl(223,50%,60%)"/>
<rect x="947" y="82" width="10" height="19.0" fill="hsl(223,50%,66%)"/>
<rect x="957" y="82" width="9" height="19.0" fill="hsl(223,50%,66%)"/>
<rect x="966" y="82" width="10" height="19.0" fill="hsl(223,50%,58%)"/>
<rect x="976" y="82" width="10" height="19.0" fill="hsl(223,50%,70%)"/>
<rect x="986" y="82" width="10" height="19.0" fill="hsl(223,50%,60%)"/>
<rect x="996" y="82" width="10" height="19.0" fill="hsl(223,50%,76%)"/>
<rect x="1006" y="82" width="10" height="19.0" fill="hsl(223,50%,76%)"/>
<rect x="1016" y="82" width="10" height="19.0" fill="hsl(223,50%,76%)"/>
<rect x="1026" y="82" width="10" height="19.0" fill="hsl(223,50%,76%)"/>
<rect x="1036" y="82" width="10" height="19.0" fill="hsl(223,50%,66%)"/>
<rect x="1046" y="82" width="10" height="19.0" fill="hsl(223,50%,68%)"/>
<rect x="1056" y="82" width="9" height="19.0" fill="hsl(223,50%,60%)"/>
<rect x="1065" y="82" width="10" height="19.0" fill="hsl(223,50%,66%)"/>
<rect x="1075" y="82" width="10" height="19.0" fill="hsl(223,50%,66%)"/>
<rect x="1085" y="82" width="10" height="19.0" fill="hsl(223,50%,68%)"/>
<rect x="1095" y="82" width="10" height="19.0" fill="hsl(223,50%,60%)"/>
<rect x="1105" y="82" width="10" height="19.0" fill="hsl(223,50%,70%)"/>
<rect x="1115" y="82" width="10" height="19.0" fill="hsl(223,50%,62%)"/>
<rect x="1125" y="82" width="10" height="19.0" fill="hsl(223,50%,44%)"/>
<rect x="1135" y="82" width="10" height="19.0" fill="hsl(223,50%,68%)"/>
<rect x="1145" y="82" width="10" height="19.0" fill="hsl(223,50%,62%)"/>
<rect x="1155" y="82" width="10" height="19.0" fill="hsl(223,50%,64%)"/>
<rect x="1165" y="82" width="9" height="19.0" fill="hsl(223,50%,66%)"/>
<rect x="1174" y="82" width="10" height="19.0" fill="hsl(223,50%,58%)"/>
<rect x="1184" y="82" width="10" height="19.0" fill="hsl(223,50%,58%)"/>
<rect x="1194" y="82" width="10" height="19.0" fill="hsl(223,50%,74%)"/>
<rect x="1204" y="82" width="10" height="19.0" fill="hsl(223,50%,58%)"/>
<rect x="1214" y="82" width="10" height="19.0" fill="hsl(223,50%,66%)"/>
<rect x="1224" y="82" width="10" height="19.0" fill="hsl(223,50%,66%)"/>
<rect x="1234" y="82" width="10" height="19.0" fill="hsl(223,50%,66%)"/>
<rect x="1244" y="82" width="10" height="19.0" fill="hsl(223,50%,60%)"/>
<rect x="1254" y="82" width="10" height="19.0" fill="hsl(223,50%,74%)"/>
<rect x="1264" y="82" width="9" height="19.0" fill="hsl(223,50%,50%)"/>
<rect x="1273" y="82" width="10" height="19.0" fill="hsl(223,50%,29%)"/>
<rect x="1283" y="82" width="10" height="19.0" fill="hsl(223,50%,62%)"/>
<rect x="1293" y="82" width="10" height="19.0" fill="hsl(223,50%,37%)"/>
<rect x="1303" y="82" width="10" height="19.0" fill="hsl(223,50%,66%)"/>
<rect x="1313" y="82" width="10" height="19.0" fill="hsl(223,50%,70%)"/>
<rect x="1323" y="82" width="10" height="19.0" fill="hsl(223,50%,70%)"/>
<rect x="1333" y="82" width="10" height="19.0" fill="hsl(223,50%,88%)"/>
</g>
<!-- overview handles + cursor -->
<rect x="352.3" y="59" width="1.4" height="43" fill="#999"/>
<rect x="349" y="31" width="7" height="28" fill="#999"/>
<rect x="1340.2" y="31" width="2.8" height="28" fill="#999"/>
<!-- time axis grid lines -->
<rect x="351.2" y="102" width="3.6" height="81" fill="#999"/>
<rect x="560.6" y="102" width="1.4" height="81" fill="#999"/>
<rect x="768.9" y="102" width="1.4" height="81" fill="#999"/>
<rect x="977.2" y="102" width="1.4" height="81" fill="#999"/>
<rect x="1185.5" y="102" width="1.4" height="81" fill="#999"/>
<!-- row borders -->
<g fill="#d6d9da">
<rect x="0" y="425.85" width="1343" height="1.2"/>
<rect x="0" y="482.4" width="1343" height="1.2"/>
<rect x="0" y="539.05" width="1343" height="1.2"/>
<rect x="0" y="595.9" width="1343" height="1.2"/>
</g>
<!-- track grid lines -->
<g fill="#d3d6d8">
<rect x="560.8" y="240" width="1.2" height="356.5"/>
<rect x="769.1" y="240" width="1.2" height="356.5"/>
<rect x="977.4" y="240" width="1.2" height="356.5"/>
<rect x="1185.7" y="240" width="1.2" height="356.5"/>
</g>
<rect x="352.2" y="240" width="2.4" height="356.8" fill="#c6cbd4"/>
<!-- slices -->
<g id="slices">
<path fill="#a3a4d4" d="M353.0 244.1h1.0v25.47h-1.0zM355.9 244.1h1.6v25.47h-1.6zM358.2 244.1h1.5v25.47h-1.5zM360.4 244.1h0.6v25.47h-0.6z"/>
<path fill="#8fb0c4" d="M354.0 244.1h0.7v25.47h-0.7z"/>
<path fill="#c79ad6" d="M354.8 244.1h1.1v25.47h-1.1zM357.5 244.1h0.7v25.47h-0.7z"/>
<path fill="#e2a6d2" d="M359.7 244.1h0.7v25.47h-0.7z"/>
<path fill="#c99bd6" d="M361.0 244.1h1.7v25.47h-1.7zM390.6 244.1h0.9v25.47h-0.9zM420.5 244.1h2.5v25.47h-2.5zM429.8 244.1h2.0v25.47h-2.0zM434.9 244.1h2.1v25.47h-2.1zM459.0 244.1h0.8v25.47h-0.8zM475.8 244.1h2.1v25.47h-2.1z"/>
<path fill="#dd98d6" d="M362.7 244.1h3.1v25.47h-3.1zM372.5 244.1h2.1v25.47h-2.1zM380.5 244.1h1.5v25.47h-1.5zM386.5 244.1h2.9v25.47h-2.9zM391.5 244.1h0.5v25.47h-0.5zM396.7 244.1h1.5v25.47h-1.5zM411.8 244.1h1.1v25.47h-1.1zM414.9 244.1h1.0v25.47h-1.0zM417.5 244.1h0.5v25.47h-0.5zM418.9 244.1h1.7v25.47h-1.7zM424.7 244.1h2.2v25.47h-2.2zM428.1 244.1h1.7v25.47h-1.7zM431.7 244.1h2.3v25.47h-2.3zM438.6 244.1h1.8v25.47h-1.8zM443.6 244.1h0.9v25.47h-0.9zM446.2 244.1h0.9v25.47h-0.9zM449.0 244.1h1.6v25.47h-1.6zM455.8 244.1h1.0v25.47h-1.0zM463.8 244.1h1.1v25.47h-1.1zM471.1 244.1h1.2v25.47h-1.2zM479.1 244.1h1.6v25.47h-1.6zM484.5 244.1h2.9v25.47h-2.9zM489.7 244.1h1.3v25.47h-1.3z"/>
<path fill="#bf7ad9" d="M365.9 244.1h4.0v25.47h-4.0zM374.6 244.1h1.3v25.47h-1.3zM377.4 244.1h3.1v25.47h-3.1zM383.5 244.1h3.1v25.47h-3.1zM394.3 244.1h2.5v25.47h-2.5zM398.2 244.1h2.1v25.47h-2.1zM403.9 244.1h0.9v25.47h-0.9zM408.9 244.1h0.8v25.47h-0.8zM423.0 244.1h1.7v25.47h-1.7zM426.9 244.1h1.1v25.47h-1.1zM440.4 244.1h3.3v25.47h-3.3zM444.6 244.1h1.6v25.47h-1.6zM448.4 244.1h0.6v25.47h-0.6z"/>
<path fill="#f7b4dc" d="M369.9 244.1h0.7v25.47h-0.7zM382.0 244.1h1.5v25.47h-1.5zM400.3 244.1h2.1v25.47h-2.1zM409.8 244.1h0.9v25.47h-0.9zM415.9 244.1h1.6v25.47h-1.6zM418.0 244.1h0.9v25.47h-0.9zM437.0 244.1h1.6v25.47h-1.6zM447.0 244.1h1.4v25.47h-1.4z"/>
<path fill="#f2a3cb" d="M370.6 244.1h1.9v25.47h-1.9zM375.9 244.1h1.5v25.47h-1.5zM389.4 244.1h1.2v25.47h-1.2zM392.0 244.1h2.3v25.47h-2.3zM406.9 244.1h2.0v25.47h-2.0zM410.7 244.1h1.1v25.47h-1.1zM412.9 244.1h2.0v25.47h-2.0z"/>
<path fill="#ea86bd" d="M402.4 244.1h1.5v25.47h-1.5zM404.9 244.1h2.1v25.47h-2.1zM454.3 244.1h1.5v25.47h-1.5zM467.7 244.1h2.2v25.47h-2.2zM487.3 244.1h2.3v25.47h-2.3z"/>
<path fill="#d9a0dc" d="M434.0 244.1h0.8v25.47h-0.8z"/>
<path fill="#e6a0d2" d="M450.6 244.1h3.7v25.47h-3.7zM456.8 244.1h2.2v25.47h-2.2zM459.8 244.1h4.0v25.47h-4.0zM464.9 244.1h2.7v25.47h-2.7zM474.0 244.1h1.8v25.47h-1.8zM480.7 244.1h1.2v25.47h-1.2zM490.9 244.1h1.7v25.47h-1.7z"/>
<path fill="#f2a9d2" d="M469.8 244.1h1.2v25.47h-1.2zM472.3 244.1h1.8v25.47h-1.8zM477.9 244.1h1.2v25.47h-1.2zM481.9 244.1h2.6v25.47h-2.6zM492.7 244.1h0.3v25.47h-0.3z"/>
<path fill="#f3a6cf" d="M493.0 244.1h0.8v25.47h-0.8zM502.2 244.1h0.8v25.47h-0.8zM507.8 244.1h1.3v25.47h-1.3zM540.2 244.1h0.6v25.47h-0.6zM558.2 244.1h0.5v25.47h-0.5zM568.7 244.1h0.9v25.47h-0.9zM621.3 244.1h1.3v25.47h-1.3zM625.2 244.1h0.6v25.47h-0.6zM643.7 244.1h0.4v25.47h-0.4zM653.9 244.1h0.6v25.47h-0.6zM662.3 244.1h0.8v25.47h-0.8zM698.5 244.1h1.0v25.47h-1.0zM719.8 244.1h1.2v25.47h-1.2zM724.0 244.1h0.9v25.47h-0.9zM730.9 244.1h0.9v25.47h-0.9zM759.2 244.1h1.3v25.47h-1.3zM766.3 244.1h0.9v25.47h-0.9zM779.1 244.1h0.4v25.47h-0.4zM794.9 244.1h0.6v25.47h-0.6zM803.7 244.1h1.0v25.47h-1.0zM813.6 244.1h1.0v25.47h-1.0zM840.4 244.1h0.8v25.47h-0.8zM865.9 244.1h1.2v25.47h-1.2zM918.2 244.1h1.1v25.47h-1.1zM921.5 244.1h0.6v25.47h-0.6zM958.3 244.1h1.2v25.47h-1.2zM968.6 244.1h1.1v25.47h-1.1zM983.8 244.1h1.3v25.47h-1.3zM1003.2 244.1h1.0v25.47h-1.0zM1007.0 244.1h0.4v25.47h-0.4zM1022.6 244.1h1.2v25.47h-1.2zM1024.4 244.1h0.7v25.47h-0.7zM1045.8 244.1h1.2v25.47h-1.2zM1057.4 244.1h1.3v25.47h-1.3zM1071.2 244.1h0.9v25.47h-0.9zM1096.8 244.1h0.8v25.47h-0.8zM1110.6 244.1h1.3v25.47h-1.3zM1137.9 244.1h0.4v25.47h-0.4zM1156.5 244.1h0.8v25.47h-0.8zM1165.9 244.1h0.9v25.47h-0.9zM1182.6 244.1h1.3v25.47h-1.3zM1186.8 244.1h0.5v25.47h-0.5zM1188.9 244.1h0.5v25.47h-0.5zM1226.3 244.1h0.6v25.47h-0.6zM1246.7 244.1h0.8v25.47h-0.8zM1264.8 244.1h0.4v25.47h-0.4zM1269.9 244.1h0.5v25.47h-0.5zM1282.1 244.1h1.0v25.47h-1.0zM1288.1 244.1h0.9v25.47h-0.9zM1309.6 244.1h1.1v25.47h-1.1zM1327.0 244.1h1.2v25.47h-1.2z"/>
<path fill="#f58fc7" d="M493.8 244.1h1.3v25.47h-1.3zM533.6 244.1h1.4v25.47h-1.4zM543.5 244.1h0.7v25.47h-0.7zM553.8 244.1h1.0v25.47h-1.0zM558.7 244.1h1.2v25.47h-1.2zM563.6 244.1h1.3v25.47h-1.3zM569.6 244.1h1.2v25.47h-1.2zM572.8 244.1h1.0v25.47h-1.0zM577.5 244.1h1.4v25.47h-1.4zM589.0 244.1h1.3v25.47h-1.3zM591.5 244.1h1.1v25.47h-1.1zM609.0 244.1h0.8v25.47h-0.8zM612.7 244.1h0.4v25.47h-0.4zM614.7 244.1h1.0v25.47h-1.0zM636.4 244.1h0.5v25.47h-0.5zM647.5 244.1h1.4v25.47h-1.4zM651.0 244.1h0.7v25.47h-0.7zM654.5 244.1h0.6v25.47h-0.6zM656.7 244.1h1.0v25.47h-1.0zM663.1 244.1h1.3v25.47h-1.3zM668.1 244.1h1.5v25.47h-1.5zM674.6 244.1h1.1v25.47h-1.1zM678.6 244.1h0.7v25.47h-0.7zM682.4 244.1h0.7v25.47h-0.7zM689.1 244.1h0.7v25.47h-0.7zM692.9 244.1h1.0v25.47h-1.0zM697.5 244.1h1.0v25.47h-1.0zM699.5 244.1h1.4v25.47h-1.4zM705.0 244.1h1.1v25.47h-1.1zM713.5 244.1h1.3v25.47h-1.3zM718.5 244.1h1.3v25.47h-1.3zM721.0 244.1h1.4v25.47h-1.4zM725.0 244.1h1.1v25.47h-1.1zM731.8 244.1h1.1v25.47h-1.1zM737.5 244.1h0.6v25.47h-0.6zM743.7 244.1h1.2v25.47h-1.2zM747.1 244.1h0.7v25.47h-0.7zM749.6 244.1h1.2v25.47h-1.2zM764.6 244.1h0.6v25.47h-0.6zM775.1 244.1h0.4v25.47h-0.4zM784.8 244.1h1.4v25.47h-1.4zM807.8 244.1h1.2v25.47h-1.2zM817.5 244.1h0.8v25.47h-0.8zM824.4 244.1h0.7v25.47h-0.7zM839.1 244.1h1.4v25.47h-1.4zM846.1 244.1h1.1v25.47h-1.1zM860.1 244.1h0.4v25.47h-0.4zM870.8 244.1h1.2v25.47h-1.2zM874.6 244.1h1.2v25.47h-1.2zM884.7 244.1h1.2v25.47h-1.2zM887.7 244.1h1.0v25.47h-1.0zM891.2 244.1h0.4v25.47h-0.4zM897.5 244.1h0.7v25.47h-0.7zM903.7 244.1h0.7v25.47h-0.7zM908.0 244.1h0.9v25.47h-0.9zM917.6 244.1h0.6v25.47h-0.6zM919.3 244.1h0.6v25.47h-0.6zM931.4 244.1h1.4v25.47h-1.4zM942.0 244.1h1.5v25.47h-1.5zM950.6 244.1h0.4v25.47h-0.4zM961.2 244.1h0.8v25.47h-0.8zM972.9 244.1h1.4v25.47h-1.4zM985.1 244.1h1.4v25.47h-1.4zM989.0 244.1h1.5v25.47h-1.5zM995.6 244.1h1.4v25.47h-1.4zM1001.9 244.1h1.3v25.47h-1.3zM1012.2 244.1h0.8v25.47h-0.8zM1017.8 244.1h1.2v25.47h-1.2zM1021.5 244.1h1.1v25.47h-1.1zM1023.8 244.1h0.5v25.47h-0.5zM1025.0 244.1h0.8v25.47h-0.8zM1040.8 244.1h1.5v25.47h-1.5zM1062.8 244.1h0.6v25.47h-0.6zM1065.5 244.1h1.1v25.47h-1.1zM1068.2 244.1h0.6v25.47h-0.6zM1074.0 244.1h1.1v25.47h-1.1zM1077.3 244.1h0.9v25.47h-0.9zM1082.6 244.1h0.8v25.47h-0.8zM1099.9 244.1h1.1v25.47h-1.1zM1102.1 244.1h0.8v25.47h-0.8zM1105.6 244.1h1.4v25.47h-1.4zM1117.2 244.1h0.5v25.47h-0.5zM1119.5 244.1h1.3v25.47h-1.3zM1129.2 244.1h0.8v25.47h-0.8zM1132.6 244.1h1.4v25.47h-1.4zM1142.3 244.1h1.1v25.47h-1.1zM1146.7 244.1h0.9v25.47h-0.9zM1150.9 244.1h0.9v25.47h-0.9zM1160.8 244.1h0.4v25.47h-0.4zM1172.9 244.1h1.3v25.47h-1.3zM1179.8 244.1h1.5v25.47h-1.5zM1189.4 244.1h1.4v25.47h-1.4zM1193.4 244.1h0.8v25.47h-0.8zM1203.8 244.1h1.1v25.47h-1.1zM1210.1 244.1h1.0v25.47h-1.0zM1225.8 244.1h0.5v25.47h-0.5zM1226.9 244.1h1.5v25.47h-1.5zM1229.9 244.1h0.9v25.47h-0.9zM1236.2 244.1h1.0v25.47h-1.0zM1241.4 244.1h0.5v25.47h-0.5zM1245.3 244.1h1.4v25.47h-1.4zM1249.0 244.1h1.0v25.47h-1.0zM1262.2 244.1h0.8v25.47h-0.8zM1265.2 244.1h1.4v25.47h-1.4zM1269.0 244.1h1.0v25.47h-1.0zM1276.0 244.1h0.4v25.47h-0.4zM1297.5 244.1h1.4v25.47h-1.4zM1306.5 244.1h1.1v25.47h-1.1zM1311.5 244.1h1.0v25.47h-1.0zM1314.9 244.1h0.5v25.47h-0.5zM1322.0 244.1h1.1v25.47h-1.1z"/>
<path fill="#eb71b2" d="M495.1 244.1h4.3v25.47h-4.3zM503.0 244.1h4.8v25.47h-4.8zM509.1 244.1h3.2v25.47h-3.2zM515.0 244.1h2.1v25.47h-2.1zM519.9 244.1h5.0v25.47h-5.0zM527.3 244.1h3.8v25.47h-3.8zM535.0 244.1h5.2v25.47h-5.2zM540.7 244.1h2.7v25.47h-2.7zM544.2 244.1h2.1v25.47h-2.1zM548.0 244.1h4.0v25.47h-4.0zM554.8 244.1h3.4v25.47h-3.4zM559.9 244.1h3.7v25.47h-3.7zM564.8 244.1h3.9v25.47h-3.9zM573.7 244.1h3.7v25.47h-3.7zM580.2 244.1h3.9v25.47h-3.9zM587.0 244.1h2.0v25.47h-2.0zM592.6 244.1h5.2v25.47h-5.2zM599.3 244.1h3.6v25.47h-3.6zM605.7 244.1h3.3v25.47h-3.3zM609.8 244.1h2.9v25.47h-2.9zM613.1 244.1h1.6v25.47h-1.6zM615.6 244.1h5.6v25.47h-5.6zM622.6 244.1h2.6v25.47h-2.6zM625.8 244.1h3.3v25.47h-3.3zM632.0 244.1h2.1v25.47h-2.1zM636.9 244.1h4.4v25.47h-4.4zM644.6 244.1h2.9v25.47h-2.9zM648.9 244.1h2.1v25.47h-2.1zM651.7 244.1h2.2v25.47h-2.2zM655.1 244.1h1.6v25.47h-1.6zM657.7 244.1h3.5v25.47h-3.5zM664.4 244.1h3.6v25.47h-3.6zM669.6 244.1h5.0v25.47h-5.0zM675.7 244.1h3.0v25.47h-3.0zM679.3 244.1h1.9v25.47h-1.9zM683.1 244.1h2.7v25.47h-2.7zM691.4 244.1h1.5v25.47h-1.5zM693.9 244.1h3.6v25.47h-3.6zM700.9 244.1h2.9v25.47h-2.9zM706.1 244.1h5.0v25.47h-5.0zM714.8 244.1h3.7v25.47h-3.7zM722.4 244.1h1.7v25.47h-1.7zM726.0 244.1h4.9v25.47h-4.9zM732.9 244.1h4.6v25.47h-4.6zM740.2 244.1h3.5v25.47h-3.5zM744.9 244.1h2.1v25.47h-2.1zM747.8 244.1h1.8v25.47h-1.8zM750.8 244.1h3.7v25.47h-3.7zM755.8 244.1h3.4v25.47h-3.4zM760.6 244.1h2.6v25.47h-2.6zM769.8 244.1h5.3v25.47h-5.3zM775.5 244.1h3.6v25.47h-3.6zM779.4 244.1h5.4v25.47h-5.4zM786.2 244.1h3.1v25.47h-3.1zM791.6 244.1h3.3v25.47h-3.3zM797.0 244.1h3.7v25.47h-3.7zM809.0 244.1h4.6v25.47h-4.6zM814.6 244.1h1.7v25.47h-1.7zM818.3 244.1h4.6v25.47h-4.6zM825.2 244.1h2.2v25.47h-2.2zM829.5 244.1h5.3v25.47h-5.3zM836.7 244.1h2.3v25.47h-2.3zM841.2 244.1h3.7v25.47h-3.7zM847.8 244.1h2.6v25.47h-2.6zM853.6 244.1h4.5v25.47h-4.5zM860.5 244.1h5.4v25.47h-5.4zM868.6 244.1h2.2v25.47h-2.2zM882.7 244.1h2.1v25.47h-2.1zM885.9 244.1h1.8v25.47h-1.8zM888.8 244.1h2.5v25.47h-2.5zM891.6 244.1h3.4v25.47h-3.4zM898.2 244.1h5.5v25.47h-5.5zM904.4 244.1h3.6v25.47h-3.6zM908.9 244.1h4.3v25.47h-4.3zM914.6 244.1h2.9v25.47h-2.9zM922.1 244.1h4.7v25.47h-4.7zM928.9 244.1h2.5v25.47h-2.5zM932.8 244.1h3.2v25.47h-3.2zM937.2 244.1h1.8v25.47h-1.8zM945.2 244.1h5.4v25.47h-5.4zM951.0 244.1h3.1v25.47h-3.1zM955.3 244.1h3.0v25.47h-3.0zM959.5 244.1h1.7v25.47h-1.7zM963.4 244.1h5.3v25.47h-5.3zM969.7 244.1h1.7v25.47h-1.7zM974.3 244.1h2.7v25.47h-2.7zM979.3 244.1h4.5v25.47h-4.5zM986.5 244.1h2.5v25.47h-2.5zM992.3 244.1h3.3v25.47h-3.3zM997.1 244.1h4.9v25.47h-4.9zM1004.2 244.1h2.9v25.47h-2.9zM1007.5 244.1h4.7v25.47h-4.7zM1015.9 244.1h1.9v25.47h-1.9zM1019.0 244.1h2.5v25.47h-2.5zM1025.8 244.1h2.6v25.47h-2.6zM1030.7 244.1h3.2v25.47h-3.2zM1035.9 244.1h4.9v25.47h-4.9zM1042.3 244.1h3.5v25.47h-3.5zM1048.0 244.1h2.0v25.47h-2.0zM1052.3 244.1h5.1v25.47h-5.1zM1058.7 244.1h4.0v25.47h-4.0zM1063.4 244.1h2.1v25.47h-2.1zM1066.6 244.1h1.6v25.47h-1.6zM1068.8 244.1h2.4v25.47h-2.4zM1072.1 244.1h1.9v25.47h-1.9zM1075.1 244.1h2.2v25.47h-2.2zM1078.2 244.1h2.8v25.47h-2.8zM1083.4 244.1h5.1v25.47h-5.1zM1090.3 244.1h4.6v25.47h-4.6zM1098.3 244.1h1.6v25.47h-1.6zM1102.9 244.1h2.7v25.47h-2.7zM1107.1 244.1h3.6v25.47h-3.6zM1111.9 244.1h2.0v25.47h-2.0zM1120.8 244.1h4.8v25.47h-4.8zM1126.8 244.1h2.4v25.47h-2.4zM1130.1 244.1h2.6v25.47h-2.6zM1134.0 244.1h3.9v25.47h-3.9zM1138.3 244.1h4.0v25.47h-4.0zM1143.4 244.1h3.3v25.47h-3.3zM1147.5 244.1h3.4v25.47h-3.4zM1151.8 244.1h4.7v25.47h-4.7zM1157.3 244.1h3.5v25.47h-3.5zM1161.3 244.1h4.6v25.47h-4.6zM1166.7 244.1h3.6v25.47h-3.6zM1174.2 244.1h5.6v25.47h-5.6zM1183.9 244.1h3.0v25.47h-3.0zM1190.8 244.1h2.6v25.47h-2.6zM1194.2 244.1h2.3v25.47h-2.3zM1199.0 244.1h4.8v25.47h-4.8zM1204.9 244.1h5.2v25.47h-5.2zM1214.0 244.1h4.9v25.47h-4.9zM1221.1 244.1h4.7v25.47h-4.7zM1228.4 244.1h1.5v25.47h-1.5zM1232.0 244.1h4.2v25.47h-4.2zM1237.3 244.1h4.1v25.47h-4.1zM1243.4 244.1h1.9v25.47h-1.9zM1247.4 244.1h1.6v25.47h-1.6zM1250.0 244.1h4.2v25.47h-4.2zM1256.9 244.1h5.3v25.47h-5.3zM1263.0 244.1h1.8v25.47h-1.8zM1266.6 244.1h2.4v25.47h-2.4zM1270.5 244.1h2.8v25.47h-2.8zM1277.5 244.1h4.6v25.47h-4.6zM1284.3 244.1h3.8v25.47h-3.8zM1289.0 244.1h4.2v25.47h-4.2zM1294.9 244.1h2.5v25.47h-2.5zM1298.9 244.1h5.2v25.47h-5.2zM1312.5 244.1h2.4v25.47h-2.4zM1316.6 244.1h2.0v25.47h-2.0zM1320.3 244.1h1.6v25.47h-1.6zM1323.1 244.1h4.0v25.47h-4.0zM1331.7 244.1h2.0v25.47h-2.0z"/>
<path fill="#e97cba" d="M499.4 244.1h2.8v25.47h-2.8zM512.3 244.1h2.6v25.47h-2.6zM517.0 244.1h2.8v25.47h-2.8zM524.8 244.1h2.5v25.47h-2.5zM531.1 244.1h2.5v25.47h-2.5zM546.2 244.1h1.7v25.47h-1.7zM551.9 244.1h1.9v25.47h-1.9zM570.8 244.1h2.0v25.47h-2.0zM584.0 244.1h2.9v25.47h-2.9zM590.2 244.1h1.3v25.47h-1.3zM597.8 244.1h1.4v25.47h-1.4zM602.8 244.1h2.9v25.47h-2.9zM629.1 244.1h2.9v25.47h-2.9zM634.1 244.1h2.3v25.47h-2.3zM641.3 244.1h2.4v25.47h-2.4zM661.2 244.1h1.1v25.47h-1.1zM685.9 244.1h3.2v25.47h-3.2zM689.8 244.1h1.6v25.47h-1.6zM703.8 244.1h1.2v25.47h-1.2zM711.1 244.1h2.4v25.47h-2.4zM738.1 244.1h2.1v25.47h-2.1zM754.4 244.1h1.4v25.47h-1.4zM763.2 244.1h1.4v25.47h-1.4zM765.1 244.1h1.2v25.47h-1.2zM767.2 244.1h2.6v25.47h-2.6zM789.3 244.1h2.3v25.47h-2.3zM795.5 244.1h1.5v25.47h-1.5zM800.7 244.1h3.0v25.47h-3.0zM804.7 244.1h3.2v25.47h-3.2zM816.3 244.1h1.2v25.47h-1.2zM822.9 244.1h1.5v25.47h-1.5zM827.4 244.1h2.1v25.47h-2.1zM834.8 244.1h2.0v25.47h-2.0zM844.9 244.1h1.2v25.47h-1.2zM850.3 244.1h2.9v25.47h-2.9zM858.1 244.1h2.0v25.47h-2.0zM867.1 244.1h1.5v25.47h-1.5zM871.9 244.1h2.6v25.47h-2.6zM882.0 244.1h0.7v25.47h-0.7zM895.1 244.1h2.4v25.47h-2.4zM913.2 244.1h1.4v25.47h-1.4zM919.9 244.1h1.6v25.47h-1.6zM926.8 244.1h2.1v25.47h-2.1zM936.0 244.1h1.2v25.47h-1.2zM939.0 244.1h3.0v25.47h-3.0zM943.5 244.1h1.7v25.47h-1.7zM954.1 244.1h1.2v25.47h-1.2zM962.0 244.1h1.3v25.47h-1.3zM971.4 244.1h1.5v25.47h-1.5zM977.0 244.1h2.4v25.47h-2.4zM990.5 244.1h1.8v25.47h-1.8zM1012.9 244.1h3.0v25.47h-3.0zM1028.4 244.1h2.3v25.47h-2.3zM1033.8 244.1h2.1v25.47h-2.1zM1047.0 244.1h1.0v25.47h-1.0zM1050.0 244.1h2.3v25.47h-2.3zM1081.0 244.1h1.6v25.47h-1.6zM1088.5 244.1h1.8v25.47h-1.8zM1094.9 244.1h1.9v25.47h-1.9zM1101.0 244.1h1.1v25.47h-1.1zM1114.0 244.1h3.2v25.47h-3.2zM1117.7 244.1h1.8v25.47h-1.8zM1170.4 244.1h1.2v25.47h-1.2zM1181.3 244.1h1.3v25.47h-1.3zM1187.4 244.1h1.5v25.47h-1.5zM1196.5 244.1h2.5v25.47h-2.5zM1211.6 244.1h2.4v25.47h-2.4zM1218.8 244.1h2.3v25.47h-2.3zM1230.8 244.1h1.2v25.47h-1.2zM1241.9 244.1h1.5v25.47h-1.5zM1254.2 244.1h2.7v25.47h-2.7zM1273.2 244.1h2.8v25.47h-2.8zM1293.2 244.1h1.4v25.47h-1.4zM1304.1 244.1h2.4v25.47h-2.4zM1307.6 244.1h2.0v25.47h-2.0zM1315.4 244.1h1.2v25.47h-1.2zM1318.6 244.1h1.7v25.47h-1.7zM1328.2 244.1h1.0v25.47h-1.0zM1330.5 244.1h1.1v25.47h-1.1z"/>
<path fill="#c48fc6" d="M578.9 244.1h1.3v25.47h-1.3zM644.2 244.1h0.4v25.47h-0.4zM681.2 244.1h1.2v25.47h-1.2zM847.2 244.1h0.6v25.47h-0.6zM853.3 244.1h0.4v25.47h-0.4zM1097.5 244.1h0.8v25.47h-0.8zM1125.6 244.1h1.2v25.47h-1.2zM1171.6 244.1h1.3v25.47h-1.3zM1211.1 244.1h0.5v25.47h-0.5zM1276.4 244.1h1.1v25.47h-1.1zM1283.2 244.1h1.1v25.47h-1.1zM1294.6 244.1h0.4v25.47h-0.4zM1310.7 244.1h0.8v25.47h-0.8zM1329.3 244.1h1.3v25.47h-1.3zM1333.6 244.1h0.9v25.47h-0.9z"/>
<path fill="#8fd9a2" d="M353.0 269.6h2.3v25.47h-2.3zM361.6 269.6h1.4v25.47h-1.4zM367.4 269.6h0.8v25.47h-0.8zM370.6 269.6h1.7v25.47h-1.7zM389.7 269.6h0.9v25.47h-0.9zM392.2 269.6h1.4v25.47h-1.4zM404.4 269.6h1.4v25.47h-1.4zM415.0 269.6h2.3v25.47h-2.3zM431.0 269.6h0.9v25.47h-0.9zM443.4 269.6h2.1v25.47h-2.1zM446.6 269.6h2.4v25.47h-2.4zM450.5 269.6h1.9v25.47h-1.9zM453.6 269.6h0.9v25.47h-0.9zM456.5 269.6h1.9v25.47h-1.9zM461.4 269.6h2.5v25.47h-2.5zM476.5 269.6h2.1v25.47h-2.1z"/>
<path fill="#e28a9a" d="M355.3 269.6h0.8v25.47h-0.8zM358.6 269.6h1.2v25.47h-1.2zM360.5 269.6h1.1v25.47h-1.1zM363.0 269.6h2.3v25.47h-2.3zM372.3 269.6h2.1v25.47h-2.1zM377.1 269.6h0.6v25.47h-0.6zM383.7 269.6h1.5v25.47h-1.5zM387.0 269.6h1.8v25.47h-1.8zM396.8 269.6h2.2v25.47h-2.2zM405.7 269.6h0.9v25.47h-0.9zM408.2 269.6h1.4v25.47h-1.4zM413.8 269.6h1.1v25.47h-1.1zM418.5 269.6h1.2v25.47h-1.2zM420.6 269.6h1.0v25.47h-1.0zM431.9 269.6h1.3v25.47h-1.3zM458.4 269.6h1.4v25.47h-1.4zM463.9 269.6h1.7v25.47h-1.7zM471.2 269.6h2.0v25.47h-2.0z"/>
<path fill="#ee6ea8" d="M356.1 269.6h2.6v25.47h-2.6zM374.4 269.6h2.7v25.47h-2.7zM379.8 269.6h2.0v25.47h-2.0zM395.4 269.6h1.3v25.47h-1.3zM411.0 269.6h1.9v25.47h-1.9zM417.3 269.6h1.2v25.47h-1.2zM423.0 269.6h3.0v25.47h-3.0zM433.2 269.6h1.7v25.47h-1.7zM438.2 269.6h2.2v25.47h-2.2zM469.1 269.6h2.1v25.47h-2.1zM474.3 269.6h2.1v25.47h-2.1z"/>
<path fill="#a9c2a9" d="M359.8 269.6h0.7v25.47h-0.7zM365.3 269.6h2.1v25.47h-2.1zM368.1 269.6h1.4v25.47h-1.4zM381.7 269.6h2.0v25.47h-2.0zM388.9 269.6h0.8v25.47h-0.8zM393.5 269.6h1.3v25.47h-1.3zM398.9 269.6h1.3v25.47h-1.3zM401.1 269.6h1.5v25.47h-1.5zM419.7 269.6h0.9v25.47h-0.9zM426.0 269.6h2.3v25.47h-2.3zM430.0 269.6h1.0v25.47h-1.0zM436.5 269.6h1.7v25.47h-1.7zM440.4 269.6h1.9v25.47h-1.9zM445.5 269.6h1.0v25.47h-1.0zM452.5 269.6h1.2v25.47h-1.2zM454.5 269.6h2.0v25.47h-2.0zM459.7 269.6h1.7v25.47h-1.7zM466.8 269.6h2.3v25.47h-2.3zM478.5 269.6h1.7v25.47h-1.7z"/>
<path fill="#d2a2b2" d="M369.5 269.6h1.1v25.47h-1.1zM377.7 269.6h2.0v25.47h-2.0zM385.2 269.6h1.0v25.47h-1.0zM390.5 269.6h1.6v25.47h-1.6zM400.2 269.6h0.9v25.47h-0.9zM402.7 269.6h1.7v25.47h-1.7zM406.6 269.6h1.6v25.47h-1.6zM409.6 269.6h1.4v25.47h-1.4zM412.9 269.6h0.9v25.47h-0.9zM428.3 269.6h1.7v25.47h-1.7zM434.9 269.6h1.6v25.47h-1.6zM448.9 269.6h1.6v25.47h-1.6zM465.6 269.6h1.2v25.47h-1.2zM480.3 269.6h1.2v25.47h-1.2z"/>
<path fill="#c8b0c8" d="M386.2 269.6h0.9v25.47h-0.9zM421.5 269.6h1.5v25.47h-1.5zM473.1 269.6h1.2v25.47h-1.2z"/>
<path fill="#6f9ca0" d="M394.8 269.6h0.6v25.47h-0.6zM442.3 269.6h1.1v25.47h-1.1z"/>
<path fill="#7ecba0" d="M481.5 269.6h3.5v25.47h-3.5zM488.4 269.6h3.0v25.47h-3.0zM495.8 269.6h1.1v25.47h-1.1zM499.5 269.6h2.1v25.47h-2.1zM506.1 269.6h1.5v25.47h-1.5zM513.6 269.6h2.2v25.47h-2.2zM520.1 269.6h2.6v25.47h-2.6zM525.4 269.6h1.7v25.47h-1.7zM531.1 269.6h3.2v25.47h-3.2zM536.7 269.6h1.5v25.47h-1.5zM541.7 269.6h2.1v25.47h-2.1zM556.8 269.6h1.0v25.47h-1.0zM578.6 269.6h3.3v25.47h-3.3zM583.9 269.6h1.1v25.47h-1.1zM587.8 269.6h2.4v25.47h-2.4zM591.0 269.6h2.4v25.47h-2.4zM595.0 269.6h2.1v25.47h-2.1zM597.9 269.6h2.6v25.47h-2.6zM609.9 269.6h2.2v25.47h-2.2zM617.9 269.6h2.2v25.47h-2.2zM621.4 269.6h2.1v25.47h-2.1zM624.9 269.6h2.3v25.47h-2.3zM635.6 269.6h2.6v25.47h-2.6zM640.7 269.6h1.1v25.47h-1.1zM648.0 269.6h2.6v25.47h-2.6zM655.3 269.6h3.0v25.47h-3.0zM666.4 269.6h1.6v25.47h-1.6zM670.6 269.6h2.7v25.47h-2.7zM674.0 269.6h1.1v25.47h-1.1zM678.9 269.6h3.4v25.47h-3.4zM684.8 269.6h3.4v25.47h-3.4zM689.7 269.6h1.2v25.47h-1.2zM722.7 269.6h2.1v25.47h-2.1zM728.4 269.6h2.0v25.47h-2.0zM733.3 269.6h1.7v25.47h-1.7zM746.3 269.6h1.8v25.47h-1.8zM752.7 269.6h2.5v25.47h-2.5zM764.6 269.6h1.7v25.47h-1.7zM770.5 269.6h1.2v25.47h-1.2zM782.5 269.6h1.2v25.47h-1.2zM790.7 269.6h2.2v25.47h-2.2zM795.7 269.6h2.0v25.47h-2.0zM804.8 269.6h1.9v25.47h-1.9zM810.2 269.6h2.5v25.47h-2.5zM816.4 269.6h3.5v25.47h-3.5zM824.4 269.6h3.3v25.47h-3.3zM833.0 269.6h1.3v25.47h-1.3zM835.4 269.6h2.7v25.47h-2.7zM839.9 269.6h2.1v25.47h-2.1zM849.5 269.6h3.3v25.47h-3.3zM872.1 269.6h1.4v25.47h-1.4zM884.2 269.6h2.2v25.47h-2.2zM890.3 269.6h2.6v25.47h-2.6zM900.1 269.6h1.4v25.47h-1.4zM905.5 269.6h1.8v25.47h-1.8zM913.0 269.6h1.7v25.47h-1.7zM916.6 269.6h3.6v25.47h-3.6zM935.0 269.6h1.3v25.47h-1.3zM942.3 269.6h2.3v25.47h-2.3zM946.4 269.6h2.8v25.47h-2.8zM960.4 269.6h1.0v25.47h-1.0zM967.5 269.6h1.4v25.47h-1.4zM971.8 269.6h2.3v25.47h-2.3zM983.9 269.6h2.9v25.47h-2.9zM992.4 269.6h2.4v25.47h-2.4zM1003.6 269.6h2.5v25.47h-2.5zM1009.5 269.6h2.3v25.47h-2.3zM1013.3 269.6h1.3v25.47h-1.3zM1015.8 269.6h2.9v25.47h-2.9zM1024.0 269.6h3.2v25.47h-3.2zM1031.2 269.6h3.6v25.47h-3.6zM1045.3 269.6h1.9v25.47h-1.9zM1049.8 269.6h1.0v25.47h-1.0zM1058.1 269.6h3.1v25.47h-3.1zM1066.8 269.6h3.4v25.47h-3.4zM1073.1 269.6h3.5v25.47h-3.5zM1079.4 269.6h3.5v25.47h-3.5zM1085.6 269.6h1.4v25.47h-1.4zM1088.6 269.6h1.7v25.47h-1.7zM1091.8 269.6h3.2v25.47h-3.2zM1095.7 269.6h2.4v25.47h-2.4zM1100.1 269.6h2.0v25.47h-2.0zM1105.8 269.6h2.3v25.47h-2.3zM1117.7 269.6h1.1v25.47h-1.1zM1130.8 269.6h2.9v25.47h-2.9zM1135.2 269.6h3.0v25.47h-3.0zM1145.2 269.6h3.5v25.47h-3.5zM1151.5 269.6h2.0v25.47h-2.0zM1154.3 269.6h2.4v25.47h-2.4zM1162.4 269.6h1.4v25.47h-1.4zM1165.5 269.6h2.5v25.47h-2.5zM1175.9 269.6h3.4v25.47h-3.4zM1180.6 269.6h2.3v25.47h-2.3zM1184.9 269.6h3.6v25.47h-3.6zM1189.5 269.6h2.5v25.47h-2.5zM1193.9 269.6h1.2v25.47h-1.2zM1196.5 269.6h2.1v25.47h-2.1zM1199.9 269.6h3.1v25.47h-3.1zM1207.4 269.6h1.3v25.47h-1.3zM1215.8 269.6h2.3v25.47h-2.3zM1219.9 269.6h2.6v25.47h-2.6zM1232.7 269.6h2.7v25.47h-2.7zM1238.2 269.6h1.7v25.47h-1.7zM1242.7 269.6h1.3v25.47h-1.3zM1247.7 269.6h3.1v25.47h-3.1zM1260.2 269.6h2.1v25.47h-2.1zM1266.5 269.6h3.5v25.47h-3.5zM1279.1 269.6h3.5v25.47h-3.5zM1283.7 269.6h2.9v25.47h-2.9zM1294.6 269.6h1.3v25.47h-1.3zM1306.4 269.6h3.2v25.47h-3.2zM1310.7 269.6h2.9v25.47h-2.9zM1314.6 269.6h1.6v25.47h-1.6zM1320.7 269.6h1.6v25.47h-1.6zM1326.4 269.6h2.4v25.47h-2.4zM1332.5 269.6h2.0v25.47h-2.0z"/>
<path fill="#6a9a9f" d="M485.0 269.6h3.5v25.47h-3.5zM491.4 269.6h4.4v25.47h-4.4zM497.0 269.6h2.5v25.47h-2.5zM502.5 269.6h1.9v25.47h-1.9zM509.3 269.6h1.6v25.47h-1.6zM515.8 269.6h4.4v25.47h-4.4zM527.1 269.6h4.0v25.47h-4.0zM534.3 269.6h2.4v25.47h-2.4zM538.2 269.6h3.6v25.47h-3.6zM546.9 269.6h3.9v25.47h-3.9zM552.9 269.6h3.9v25.47h-3.9zM557.8 269.6h4.3v25.47h-4.3zM563.0 269.6h1.7v25.47h-1.7zM566.2 269.6h4.2v25.47h-4.2zM581.9 269.6h2.0v25.47h-2.0zM585.0 269.6h2.8v25.47h-2.8zM600.5 269.6h3.2v25.47h-3.2zM605.4 269.6h4.4v25.47h-4.4zM613.8 269.6h4.0v25.47h-4.0zM627.2 269.6h2.9v25.47h-2.9zM633.4 269.6h2.2v25.47h-2.2zM641.8 269.6h1.2v25.47h-1.2zM651.9 269.6h3.4v25.47h-3.4zM658.2 269.6h1.8v25.47h-1.8zM668.0 269.6h2.6v25.47h-2.6zM675.0 269.6h3.9v25.47h-3.9zM682.3 269.6h2.5v25.47h-2.5zM691.7 269.6h1.3v25.47h-1.3zM694.9 269.6h3.6v25.47h-3.6zM699.2 269.6h3.8v25.47h-3.8zM704.6 269.6h3.3v25.47h-3.3zM710.5 269.6h3.3v25.47h-3.3zM714.8 269.6h3.6v25.47h-3.6zM720.3 269.6h2.4v25.47h-2.4zM735.0 269.6h4.4v25.47h-4.4zM741.0 269.6h3.2v25.47h-3.2zM751.5 269.6h1.2v25.47h-1.2zM757.9 269.6h3.9v25.47h-3.9zM774.7 269.6h3.2v25.47h-3.2zM779.0 269.6h2.0v25.47h-2.0zM786.2 269.6h3.1v25.47h-3.1zM792.9 269.6h1.8v25.47h-1.8zM797.7 269.6h1.3v25.47h-1.3zM800.4 269.6h3.3v25.47h-3.3zM806.7 269.6h1.3v25.47h-1.3zM812.6 269.6h3.8v25.47h-3.8zM822.5 269.6h1.9v25.47h-1.9zM829.9 269.6h3.2v25.47h-3.2zM842.0 269.6h4.4v25.47h-4.4zM847.4 269.6h2.0v25.47h-2.0zM854.9 269.6h3.8v25.47h-3.8zM860.8 269.6h3.7v25.47h-3.7zM866.3 269.6h3.2v25.47h-3.2zM870.1 269.6h2.0v25.47h-2.0zM873.5 269.6h1.7v25.47h-1.7zM875.7 269.6h0.1v25.47h-0.1zM882.0 269.6h0.1v25.47h-0.1zM886.4 269.6h3.9v25.47h-3.9zM892.9 269.6h1.9v25.47h-1.9zM896.1 269.6h4.1v25.47h-4.1zM901.5 269.6h4.0v25.47h-4.0zM908.1 269.6h4.2v25.47h-4.2zM914.8 269.6h1.9v25.47h-1.9zM922.5 269.6h2.2v25.47h-2.2zM928.2 269.6h1.2v25.47h-1.2zM931.3 269.6h2.6v25.47h-2.6zM936.3 269.6h3.7v25.47h-3.7zM940.8 269.6h1.5v25.47h-1.5zM944.6 269.6h1.9v25.47h-1.9zM951.3 269.6h1.4v25.47h-1.4zM953.8 269.6h3.9v25.47h-3.9zM963.5 269.6h3.9v25.47h-3.9zM968.9 269.6h2.9v25.47h-2.9zM974.1 269.6h3.6v25.47h-3.6zM980.4 269.6h3.5v25.47h-3.5zM986.9 269.6h4.1v25.47h-4.1zM994.8 269.6h4.4v25.47h-4.4zM1000.1 269.6h3.5v25.47h-3.5zM1007.9 269.6h1.6v25.47h-1.6zM1011.7 269.6h1.6v25.47h-1.6zM1018.7 269.6h3.9v25.47h-3.9zM1029.2 269.6h2.0v25.47h-2.0zM1037.5 269.6h2.9v25.47h-2.9zM1042.7 269.6h2.6v25.47h-2.6zM1047.2 269.6h2.6v25.47h-2.6zM1050.9 269.6h4.4v25.47h-4.4zM1062.6 269.6h3.3v25.47h-3.3zM1070.2 269.6h2.9v25.47h-2.9zM1076.5 269.6h2.2v25.47h-2.2zM1082.9 269.6h2.7v25.47h-2.7zM1087.0 269.6h1.6v25.47h-1.6zM1090.3 269.6h1.5v25.47h-1.5zM1098.1 269.6h2.0v25.47h-2.0zM1102.1 269.6h2.4v25.47h-2.4zM1108.1 269.6h4.5v25.47h-4.5zM1113.7 269.6h4.1v25.47h-4.1zM1119.5 269.6h4.4v25.47h-4.4zM1124.5 269.6h2.4v25.47h-2.4zM1139.9 269.6h4.1v25.47h-4.1zM1156.7 269.6h3.8v25.47h-3.8zM1163.9 269.6h1.7v25.47h-1.7zM1168.0 269.6h4.2v25.47h-4.2zM1179.3 269.6h1.4v25.47h-1.4zM1203.0 269.6h2.2v25.47h-2.2zM1213.6 269.6h2.2v25.47h-2.2zM1218.1 269.6h1.8v25.47h-1.8zM1224.2 269.6h2.6v25.47h-2.6zM1228.7 269.6h4.0v25.47h-4.0zM1235.4 269.6h2.8v25.47h-2.8zM1244.0 269.6h3.7v25.47h-3.7zM1251.8 269.6h3.7v25.47h-3.7zM1256.5 269.6h2.1v25.47h-2.1zM1262.4 269.6h4.1v25.47h-4.1zM1270.0 269.6h1.3v25.47h-1.3zM1273.5 269.6h4.2v25.47h-4.2zM1286.5 269.6h2.2v25.47h-2.2zM1291.0 269.6h2.4v25.47h-2.4zM1295.8 269.6h1.6v25.47h-1.6zM1299.0 269.6h1.8v25.47h-1.8zM1301.8 269.6h3.5v25.47h-3.5zM1316.1 269.6h3.5v25.47h-3.5zM1322.3 269.6h4.1v25.47h-4.1zM1328.8 269.6h3.7v25.47h-3.7z"/>
<path fill="#a4e6bd" d="M501.5 269.6h0.9v25.47h-0.9zM504.4 269.6h1.7v25.47h-1.7zM543.8 269.6h1.0v25.47h-1.0zM562.2 269.6h0.8v25.47h-0.8zM577.4 269.6h1.2v25.47h-1.2zM593.4 269.6h1.6v25.47h-1.6zM603.7 269.6h1.7v25.47h-1.7zM612.5 269.6h1.3v25.47h-1.3zM639.1 269.6h1.6v25.47h-1.6zM644.8 269.6h1.5v25.47h-1.5zM650.6 269.6h1.3v25.47h-1.3zM662.9 269.6h1.0v25.47h-1.0zM690.9 269.6h0.8v25.47h-0.8zM692.9 269.6h0.6v25.47h-0.6zM698.5 269.6h0.7v25.47h-0.7zM703.0 269.6h1.6v25.47h-1.6zM707.8 269.6h1.1v25.47h-1.1zM710.0 269.6h0.5v25.47h-0.5zM724.8 269.6h0.7v25.47h-0.7zM727.1 269.6h1.3v25.47h-1.3zM739.4 269.6h1.6v25.47h-1.6zM748.9 269.6h1.3v25.47h-1.3zM768.8 269.6h1.7v25.47h-1.7zM773.0 269.6h1.7v25.47h-1.7zM777.9 269.6h1.1v25.47h-1.1zM781.0 269.6h1.5v25.47h-1.5zM794.8 269.6h1.0v25.47h-1.0zM819.8 269.6h1.6v25.47h-1.6zM858.7 269.6h1.3v25.47h-1.3zM869.5 269.6h0.6v25.47h-0.6zM875.2 269.6h0.5v25.47h-0.5zM894.9 269.6h1.2v25.47h-1.2zM912.3 269.6h0.8v25.47h-0.8zM925.1 269.6h0.9v25.47h-0.9zM940.1 269.6h0.7v25.47h-0.7zM952.8 269.6h1.0v25.47h-1.0zM1006.1 269.6h0.6v25.47h-0.6zM1065.9 269.6h0.8v25.47h-0.8zM1078.7 269.6h0.6v25.47h-0.6zM1095.0 269.6h0.7v25.47h-0.7zM1118.9 269.6h0.6v25.47h-0.6zM1123.8 269.6h0.7v25.47h-0.7zM1126.9 269.6h1.3v25.47h-1.3zM1133.7 269.6h1.5v25.47h-1.5zM1138.2 269.6h1.7v25.47h-1.7zM1144.0 269.6h1.3v25.47h-1.3zM1153.4 269.6h0.9v25.47h-0.9zM1188.5 269.6h1.0v25.47h-1.0zM1228.2 269.6h0.5v25.47h-0.5zM1239.9 269.6h1.2v25.47h-1.2zM1255.5 269.6h0.9v25.47h-0.9zM1300.8 269.6h0.9v25.47h-0.9z"/>
<path fill="#5f8f99" d="M507.7 269.6h1.7v25.47h-1.7zM511.0 269.6h2.6v25.47h-2.6zM522.8 269.6h2.6v25.47h-2.6zM564.7 269.6h1.6v25.47h-1.6zM570.4 269.6h1.2v25.47h-1.2zM572.6 269.6h2.3v25.47h-2.3zM576.2 269.6h1.2v25.47h-1.2zM590.2 269.6h0.8v25.47h-0.8zM620.1 269.6h1.3v25.47h-1.3zM623.4 269.6h1.4v25.47h-1.4zM631.8 269.6h1.5v25.47h-1.5zM638.2 269.6h0.9v25.47h-0.9zM660.0 269.6h2.8v25.47h-2.8zM663.8 269.6h2.5v25.47h-2.5zM713.9 269.6h1.0v25.47h-1.0zM718.4 269.6h1.9v25.47h-1.9zM725.5 269.6h1.6v25.47h-1.6zM730.4 269.6h2.9v25.47h-2.9zM755.2 269.6h2.8v25.47h-2.8zM761.9 269.6h2.7v25.47h-2.7zM766.3 269.6h2.6v25.47h-2.6zM771.7 269.6h1.2v25.47h-1.2zM783.7 269.6h2.5v25.47h-2.5zM803.7 269.6h1.1v25.47h-1.1zM926.6 269.6h1.5v25.47h-1.5zM929.4 269.6h2.0v25.47h-2.0zM949.3 269.6h2.1v25.47h-2.1zM957.7 269.6h2.7v25.47h-2.7zM977.7 269.6h2.7v25.47h-2.7zM999.2 269.6h0.9v25.47h-0.9zM1014.7 269.6h1.1v25.47h-1.1zM1034.7 269.6h2.8v25.47h-2.8zM1055.3 269.6h2.9v25.47h-2.9zM1104.5 269.6h1.3v25.47h-1.3zM1112.5 269.6h1.1v25.47h-1.1zM1128.2 269.6h2.6v25.47h-2.6zM1148.7 269.6h2.7v25.47h-2.7zM1160.5 269.6h1.9v25.47h-1.9zM1172.3 269.6h2.6v25.47h-2.6zM1209.8 269.6h3.0v25.47h-3.0zM1226.7 269.6h1.5v25.47h-1.5zM1250.9 269.6h0.9v25.47h-0.9zM1277.7 269.6h1.5v25.47h-1.5zM1289.7 269.6h1.3v25.47h-1.3zM1297.4 269.6h1.6v25.47h-1.6zM1305.3 269.6h1.1v25.47h-1.1zM1309.6 269.6h1.2v25.47h-1.2z"/>
<path fill="#8fb4ad" d="M544.8 269.6h2.1v25.47h-2.1zM550.9 269.6h2.0v25.47h-2.0zM597.1 269.6h0.8v25.47h-0.8zM630.0 269.6h1.8v25.47h-1.8zM643.0 269.6h1.7v25.47h-1.7zM646.3 269.6h1.7v25.47h-1.7zM673.2 269.6h0.7v25.47h-0.7zM688.2 269.6h1.5v25.47h-1.5zM693.6 269.6h0.8v25.47h-0.8zM708.9 269.6h1.1v25.47h-1.1zM744.2 269.6h2.1v25.47h-2.1zM799.1 269.6h1.3v25.47h-1.3zM808.0 269.6h2.2v25.47h-2.2zM821.4 269.6h1.1v25.47h-1.1zM827.6 269.6h2.2v25.47h-2.2zM834.3 269.6h1.1v25.47h-1.1zM838.1 269.6h1.8v25.47h-1.8zM846.4 269.6h1.0v25.47h-1.0zM852.8 269.6h2.1v25.47h-2.1zM860.1 269.6h0.7v25.47h-0.7zM864.5 269.6h1.8v25.47h-1.8zM882.1 269.6h2.1v25.47h-2.1zM907.3 269.6h0.8v25.47h-0.8zM920.2 269.6h2.3v25.47h-2.3zM925.9 269.6h0.7v25.47h-0.7zM934.0 269.6h1.0v25.47h-1.0zM961.4 269.6h1.5v25.47h-1.5zM990.9 269.6h1.5v25.47h-1.5zM1022.7 269.6h1.3v25.47h-1.3zM1027.2 269.6h2.0v25.47h-2.0zM1040.4 269.6h2.3v25.47h-2.3zM1174.9 269.6h1.0v25.47h-1.0zM1182.9 269.6h2.0v25.47h-2.0zM1192.0 269.6h1.8v25.47h-1.8zM1198.7 269.6h1.2v25.47h-1.2zM1205.3 269.6h2.1v25.47h-2.1zM1222.4 269.6h1.8v25.47h-1.8zM1241.1 269.6h1.7v25.47h-1.7zM1258.6 269.6h1.7v25.47h-1.7zM1271.3 269.6h2.1v25.47h-2.1zM1282.6 269.6h1.1v25.47h-1.1zM1293.4 269.6h1.2v25.47h-1.2zM1313.6 269.6h1.0v25.47h-1.0z"/>
<path fill="#cfa9d0" d="M571.6 269.6h1.1v25.47h-1.1zM574.9 269.6h1.3v25.47h-1.3zM612.1 269.6h0.4v25.47h-0.4zM694.4 269.6h0.5v25.47h-0.5zM748.1 269.6h0.8v25.47h-0.8zM750.2 269.6h1.3v25.47h-1.3zM789.3 269.6h1.4v25.47h-1.4zM924.6 269.6h0.5v25.47h-0.5zM962.8 269.6h0.7v25.47h-0.7zM1006.7 269.6h1.2v25.47h-1.2zM1061.2 269.6h1.4v25.47h-1.4zM1195.1 269.6h1.5v25.47h-1.5zM1208.6 269.6h1.2v25.47h-1.2zM1212.7 269.6h0.9v25.47h-0.9zM1288.8 269.6h0.9v25.47h-0.9zM1319.7 269.6h1.0v25.47h-1.0z"/>
<path fill="#8fb8a0" d="M353.0 295.0h1.2v25.47h-1.2zM358.1 295.0h1.1v25.47h-1.1z"/>
<path fill="#b0a2d8" d="M354.2 295.0h0.9v25.47h-0.9zM356.2 295.0h1.9v25.47h-1.9zM359.2 295.0h1.4v25.47h-1.4zM361.7 295.0h2.7v25.47h-2.7zM366.2 295.0h1.3v25.47h-1.3zM369.1 295.0h1.6v25.47h-1.6z"/>
<path fill="#c3b3de" d="M355.1 295.0h1.0v25.47h-1.0zM360.7 295.0h1.0v25.47h-1.0zM364.3 295.0h1.9v25.47h-1.9zM367.6 295.0h1.6v25.47h-1.6zM370.8 295.0h1.2v25.47h-1.2zM377.3 295.0h1.7v25.47h-1.7zM384.2 295.0h1.4v25.47h-1.4zM389.0 295.0h1.7v25.47h-1.7zM391.4 295.0h1.5v25.47h-1.5zM395.1 295.0h1.7v25.47h-1.7zM400.9 295.0h1.0v25.47h-1.0zM408.6 295.0h1.5v25.47h-1.5zM460.7 295.0h1.5v25.47h-1.5zM470.2 295.0h0.8v25.47h-0.8zM473.8 295.0h1.0v25.47h-1.0zM476.4 295.0h0.9v25.47h-0.9z"/>
<path fill="#86b59c" d="M372.0 295.0h2.5v25.47h-2.5zM376.2 295.0h1.0v25.47h-1.0zM379.6 295.0h1.1v25.47h-1.1zM381.9 295.0h1.4v25.47h-1.4zM392.9 295.0h1.3v25.47h-1.3zM396.8 295.0h2.2v25.47h-2.2zM401.9 295.0h2.7v25.47h-2.7zM414.2 295.0h2.4v25.47h-2.4zM422.2 295.0h1.5v25.47h-1.5zM427.1 295.0h1.3v25.47h-1.3zM432.9 295.0h1.9v25.47h-1.9zM438.6 295.0h2.2v25.47h-2.2zM443.8 295.0h1.4v25.47h-1.4zM446.2 295.0h1.4v25.47h-1.4zM448.8 295.0h1.4v25.47h-1.4zM451.5 295.0h0.9v25.47h-0.9zM453.9 295.0h2.3v25.47h-2.3zM457.4 295.0h1.8v25.47h-1.8zM464.3 295.0h1.3v25.47h-1.3zM477.3 295.0h2.0v25.47h-2.0z"/>
<path fill="#6f9c9c" d="M374.5 295.0h1.7v25.47h-1.7zM380.7 295.0h1.3v25.47h-1.3zM388.4 295.0h0.6v25.47h-0.6zM390.7 295.0h0.7v25.47h-0.7zM418.4 295.0h1.6v25.47h-1.6zM424.7 295.0h0.9v25.47h-0.9zM430.8 295.0h2.1v25.47h-2.1zM434.9 295.0h2.0v25.47h-2.0zM467.4 295.0h0.9v25.47h-0.9zM472.8 295.0h0.9v25.47h-0.9z"/>
<path fill="#9fd6b0" d="M378.9 295.0h0.6v25.47h-0.6zM385.6 295.0h0.9v25.47h-0.9zM394.2 295.0h0.9v25.47h-0.9zM406.9 295.0h1.7v25.47h-1.7zM410.8 295.0h1.2v25.47h-1.2zM416.6 295.0h1.8v25.47h-1.8zM425.6 295.0h1.6v25.47h-1.6zM442.0 295.0h1.8v25.47h-1.8zM447.6 295.0h1.2v25.47h-1.2zM465.5 295.0h1.8v25.47h-1.8zM471.0 295.0h1.8v25.47h-1.8zM481.1 295.0h0.4v25.47h-0.4z"/>
<path fill="#e79ad6" d="M383.4 295.0h0.8v25.47h-0.8zM421.3 295.0h0.9v25.47h-0.9zM436.9 295.0h1.7v25.47h-1.7zM440.8 295.0h1.3v25.47h-1.3zM460.2 295.0h0.6v25.47h-0.6zM462.3 295.0h2.0v25.47h-2.0zM468.3 295.0h1.8v25.47h-1.8zM479.3 295.0h1.8v25.47h-1.8z"/>
<path fill="#b4a0d6" d="M386.6 295.0h1.8v25.47h-1.8zM399.0 295.0h1.9v25.47h-1.9zM404.7 295.0h2.2v25.47h-2.2zM410.1 295.0h0.7v25.47h-0.7zM412.0 295.0h2.2v25.47h-2.2zM423.7 295.0h1.0v25.47h-1.0zM428.4 295.0h1.4v25.47h-1.4zM445.2 295.0h1.0v25.47h-1.0zM450.3 295.0h1.3v25.47h-1.3zM459.2 295.0h1.0v25.47h-1.0zM474.8 295.0h1.6v25.47h-1.6z"/>
<path fill="#8fa6b8" d="M419.9 295.0h1.3v25.47h-1.3zM429.8 295.0h1.0v25.47h-1.0zM452.4 295.0h1.5v25.47h-1.5zM456.2 295.0h1.2v25.47h-1.2z"/>
<path fill="#d9a3e0" d="M481.5 295.0h1.4v25.47h-1.4zM493.2 295.0h0.7v25.47h-0.7zM524.3 295.0h2.1v25.47h-2.1zM527.8 295.0h1.6v25.47h-1.6zM538.8 295.0h1.4v25.47h-1.4zM636.4 295.0h2.0v25.47h-2.0zM658.3 295.0h1.8v25.47h-1.8zM697.8 295.0h0.6v25.47h-0.6zM737.6 295.0h0.6v25.47h-0.6zM747.2 295.0h2.2v25.47h-2.2zM769.3 295.0h1.7v25.47h-1.7zM785.9 295.0h1.4v25.47h-1.4zM802.0 295.0h1.1v25.47h-1.1zM810.7 295.0h1.2v25.47h-1.2zM839.6 295.0h1.6v25.47h-1.6zM856.4 295.0h0.9v25.47h-0.9zM921.4 295.0h1.3v25.47h-1.3zM929.3 295.0h0.8v25.47h-0.8zM953.6 295.0h1.2v25.47h-1.2zM966.7 295.0h1.4v25.47h-1.4zM984.6 295.0h2.1v25.47h-2.1zM1041.0 295.0h1.1v25.47h-1.1zM1045.5 295.0h0.6v25.47h-0.6zM1055.6 295.0h1.8v25.47h-1.8zM1072.5 295.0h1.1v25.47h-1.1zM1086.1 295.0h1.1v25.47h-1.1zM1122.3 295.0h1.2v25.47h-1.2zM1129.3 295.0h0.6v25.47h-0.6zM1164.2 295.0h1.0v25.47h-1.0zM1200.6 295.0h1.4v25.47h-1.4zM1232.9 295.0h1.7v25.47h-1.7zM1298.4 295.0h0.9v25.47h-0.9z"/>
<path fill="#ee9adc" d="M482.9 295.0h3.8v25.47h-3.8zM487.3 295.0h6.0v25.47h-6.0zM493.9 295.0h5.9v25.47h-5.9zM504.3 295.0h7.6v25.47h-7.6zM514.2 295.0h6.0v25.47h-6.0zM521.1 295.0h3.2v25.47h-3.2zM531.9 295.0h6.9v25.47h-6.9zM541.1 295.0h9.4v25.47h-9.4zM551.6 295.0h7.6v25.47h-7.6zM560.3 295.0h3.4v25.47h-3.4zM564.7 295.0h9.2v25.47h-9.2zM574.7 295.0h6.8v25.47h-6.8zM582.2 295.0h7.1v25.47h-7.1zM593.4 295.0h10.2v25.47h-10.2zM605.6 295.0h9.9v25.47h-9.9zM617.1 295.0h8.5v25.47h-8.5zM626.4 295.0h8.0v25.47h-8.0zM638.4 295.0h8.3v25.47h-8.3zM650.1 295.0h8.2v25.47h-8.2zM660.1 295.0h7.2v25.47h-7.2zM668.9 295.0h9.7v25.47h-9.7zM679.5 295.0h6.0v25.47h-6.0zM686.4 295.0h2.7v25.47h-2.7zM691.5 295.0h3.7v25.47h-3.7zM698.4 295.0h3.7v25.47h-3.7zM703.3 295.0h4.0v25.47h-4.0zM710.2 295.0h6.2v25.47h-6.2zM717.8 295.0h4.2v25.47h-4.2zM723.0 295.0h3.9v25.47h-3.9zM727.9 295.0h2.6v25.47h-2.6zM731.5 295.0h6.1v25.47h-6.1zM738.2 295.0h7.7v25.47h-7.7zM749.4 295.0h6.9v25.47h-6.9zM761.1 295.0h4.7v25.47h-4.7zM771.0 295.0h8.4v25.47h-8.4zM782.9 295.0h3.0v25.47h-3.0zM787.2 295.0h4.4v25.47h-4.4zM792.5 295.0h6.9v25.47h-6.9zM803.7 295.0h7.0v25.47h-7.0zM814.5 295.0h9.5v25.47h-9.5zM825.6 295.0h4.1v25.47h-4.1zM831.4 295.0h8.2v25.47h-8.2zM841.2 295.0h8.8v25.47h-8.8zM850.7 295.0h4.0v25.47h-4.0zM857.3 295.0h8.3v25.47h-8.3zM866.7 295.0h3.0v25.47h-3.0zM870.7 295.0h5.1v25.47h-5.1zM882.0 295.0h4.6v25.47h-4.6zM888.5 295.0h3.8v25.47h-3.8zM893.5 295.0h6.7v25.47h-6.7zM901.5 295.0h8.3v25.47h-8.3zM912.9 295.0h8.5v25.47h-8.5zM922.7 295.0h6.6v25.47h-6.6zM930.1 295.0h6.2v25.47h-6.2zM937.9 295.0h10.2v25.47h-10.2zM949.3 295.0h3.6v25.47h-3.6zM954.8 295.0h3.9v25.47h-3.9zM962.3 295.0h2.8v25.47h-2.8zM971.4 295.0h9.5v25.47h-9.5zM987.5 295.0h4.6v25.47h-4.6zM994.9 295.0h10.2v25.47h-10.2zM1007.1 295.0h8.3v25.47h-8.3zM1016.1 295.0h6.3v25.47h-6.3zM1024.3 295.0h7.0v25.47h-7.0zM1031.9 295.0h8.5v25.47h-8.5zM1042.1 295.0h3.4v25.47h-3.4zM1047.8 295.0h7.8v25.47h-7.8zM1058.8 295.0h4.4v25.47h-4.4zM1066.1 295.0h6.4v25.47h-6.4zM1074.1 295.0h3.6v25.47h-3.6zM1080.8 295.0h5.3v25.47h-5.3zM1087.2 295.0h10.0v25.47h-10.0zM1098.4 295.0h3.9v25.47h-3.9zM1103.3 295.0h7.8v25.47h-7.8zM1117.3 295.0h5.0v25.47h-5.0zM1123.6 295.0h5.7v25.47h-5.7zM1131.6 295.0h7.3v25.47h-7.3zM1143.7 295.0h10.0v25.47h-10.0zM1157.1 295.0h7.1v25.47h-7.1zM1166.7 295.0h8.0v25.47h-8.0zM1176.1 295.0h7.4v25.47h-7.4zM1184.3 295.0h9.5v25.47h-9.5zM1196.3 295.0h4.3v25.47h-4.3zM1204.9 295.0h8.9v25.47h-8.9zM1216.8 295.0h5.5v25.47h-5.5zM1223.5 295.0h3.7v25.47h-3.7zM1229.7 295.0h3.2v25.47h-3.2zM1234.7 295.0h6.2v25.47h-6.2zM1244.0 295.0h7.8v25.47h-7.8zM1252.6 295.0h5.2v25.47h-5.2zM1258.4 295.0h8.1v25.47h-8.1zM1268.6 295.0h5.8v25.47h-5.8zM1277.2 295.0h2.9v25.47h-2.9zM1281.9 295.0h7.5v25.47h-7.5zM1291.4 295.0h7.0v25.47h-7.0zM1302.3 295.0h8.4v25.47h-8.4zM1313.0 295.0h7.1v25.47h-7.1zM1320.9 295.0h9.4v25.47h-9.4zM1333.5 295.0h1.0v25.47h-1.0z"/>
<path fill="#f6b3e8" d="M486.7 295.0h0.6v25.47h-0.6zM511.9 295.0h1.7v25.47h-1.7zM520.1 295.0h1.0v25.47h-1.0zM530.5 295.0h1.4v25.47h-1.4zM540.2 295.0h0.9v25.47h-0.9zM550.5 295.0h1.1v25.47h-1.1zM559.2 295.0h1.1v25.47h-1.1zM573.9 295.0h0.8v25.47h-0.8zM581.5 295.0h0.6v25.47h-0.6zM615.5 295.0h1.6v25.47h-1.6zM625.6 295.0h0.8v25.47h-0.8zM667.3 295.0h1.6v25.47h-1.6zM678.6 295.0h0.8v25.47h-0.8zM690.7 295.0h0.9v25.47h-0.9zM696.2 295.0h1.6v25.47h-1.6zM717.2 295.0h0.6v25.47h-0.6zM726.9 295.0h1.0v25.47h-1.0zM730.5 295.0h1.0v25.47h-1.0zM745.9 295.0h1.2v25.47h-1.2zM759.7 295.0h1.4v25.47h-1.4zM781.9 295.0h1.0v25.47h-1.0zM803.1 295.0h0.6v25.47h-0.6zM829.7 295.0h1.7v25.47h-1.7zM854.7 295.0h1.7v25.47h-1.7zM865.7 295.0h1.1v25.47h-1.1zM869.7 295.0h1.0v25.47h-1.0zM900.2 295.0h1.3v25.47h-1.3zM936.3 295.0h1.6v25.47h-1.6zM952.8 295.0h0.7v25.47h-0.7zM968.1 295.0h1.0v25.47h-1.0zM982.0 295.0h1.1v25.47h-1.1zM983.5 295.0h1.1v25.47h-1.1zM986.7 295.0h0.8v25.47h-0.8zM1005.1 295.0h0.7v25.47h-0.7zM1023.0 295.0h1.3v25.47h-1.3zM1077.7 295.0h0.7v25.47h-0.7zM1102.3 295.0h1.0v25.47h-1.0zM1111.2 295.0h1.3v25.47h-1.3zM1129.8 295.0h1.8v25.47h-1.8zM1142.4 295.0h1.3v25.47h-1.3zM1165.2 295.0h1.6v25.47h-1.6zM1174.8 295.0h1.4v25.47h-1.4zM1183.5 295.0h0.8v25.47h-0.8zM1202.0 295.0h1.2v25.47h-1.2zM1213.8 295.0h1.7v25.47h-1.7zM1251.8 295.0h0.8v25.47h-0.8zM1257.8 295.0h0.6v25.47h-0.6zM1266.9 295.0h1.7v25.47h-1.7zM1301.3 295.0h1.0v25.47h-1.0zM1310.6 295.0h1.2v25.47h-1.2z"/>
<path fill="#e58fd6" d="M499.9 295.0h1.0v25.47h-1.0zM502.1 295.0h2.2v25.47h-2.2zM529.4 295.0h1.1v25.47h-1.1zM590.2 295.0h3.1v25.47h-3.1zM603.5 295.0h1.3v25.47h-1.3zM646.7 295.0h2.9v25.47h-2.9zM689.2 295.0h1.5v25.47h-1.5zM707.3 295.0h2.9v25.47h-2.9zM756.3 295.0h3.5v25.47h-3.5zM765.8 295.0h3.5v25.47h-3.5zM779.4 295.0h2.4v25.47h-2.4zM799.5 295.0h2.5v25.47h-2.5zM811.9 295.0h2.2v25.47h-2.2zM824.0 295.0h1.6v25.47h-1.6zM886.6 295.0h1.9v25.47h-1.9zM892.3 295.0h1.2v25.47h-1.2zM909.7 295.0h3.2v25.47h-3.2zM948.0 295.0h1.2v25.47h-1.2zM958.7 295.0h3.6v25.47h-3.6zM965.1 295.0h1.7v25.47h-1.7zM969.1 295.0h2.3v25.47h-2.3zM980.9 295.0h1.1v25.47h-1.1zM992.1 295.0h2.8v25.47h-2.8zM1046.6 295.0h1.2v25.47h-1.2zM1063.2 295.0h2.9v25.47h-2.9zM1078.4 295.0h2.4v25.47h-2.4zM1112.4 295.0h3.8v25.47h-3.8zM1140.5 295.0h1.9v25.47h-1.9zM1153.7 295.0h3.4v25.47h-3.4zM1193.9 295.0h2.5v25.47h-2.5zM1203.3 295.0h1.6v25.47h-1.6zM1227.2 295.0h2.5v25.47h-2.5zM1240.9 295.0h3.1v25.47h-3.1zM1274.4 295.0h2.7v25.47h-2.7zM1280.1 295.0h1.8v25.47h-1.8zM1289.4 295.0h2.0v25.47h-2.0zM1299.3 295.0h2.0v25.47h-2.0zM1331.4 295.0h2.1v25.47h-2.1z"/>
<path fill="#8aa2b0" d="M500.8 295.0h1.3v25.47h-1.3zM526.4 295.0h1.4v25.47h-1.4zM589.3 295.0h1.0v25.47h-1.0zM604.8 295.0h0.8v25.47h-0.8zM635.4 295.0h1.0v25.47h-1.0zM649.6 295.0h0.5v25.47h-0.5zM685.4 295.0h1.0v25.47h-1.0zM695.2 295.0h0.9v25.47h-0.9zM702.1 295.0h1.2v25.47h-1.2zM716.4 295.0h0.8v25.47h-0.8zM791.7 295.0h0.8v25.47h-0.8zM814.1 295.0h0.4v25.47h-0.4zM849.9 295.0h0.7v25.47h-0.7zM983.1 295.0h0.4v25.47h-0.4zM1005.8 295.0h1.3v25.47h-1.3zM1015.5 295.0h0.7v25.47h-0.7zM1040.4 295.0h0.6v25.47h-0.6zM1073.6 295.0h0.5v25.47h-0.5zM1116.2 295.0h1.1v25.47h-1.1zM1138.9 295.0h1.2v25.47h-1.2zM1222.2 295.0h1.2v25.47h-1.2zM1266.4 295.0h0.5v25.47h-0.5zM1320.1 295.0h0.8v25.47h-0.8zM1330.3 295.0h1.1v25.47h-1.1z"/>
<path fill="#7dbf9b" d="M513.6 295.0h0.5v25.47h-0.5zM563.8 295.0h1.0v25.47h-1.0zM634.4 295.0h1.0v25.47h-1.0zM722.0 295.0h1.0v25.47h-1.0zM1022.4 295.0h0.5v25.47h-0.5zM1031.3 295.0h0.6v25.47h-0.6zM1046.0 295.0h0.5v25.47h-0.5zM1057.4 295.0h1.4v25.47h-1.4zM1097.2 295.0h1.1v25.47h-1.1zM1140.1 295.0h0.4v25.47h-0.4zM1215.5 295.0h1.3v25.47h-1.3zM1311.8 295.0h1.2v25.47h-1.2zM521.5 295.0h1.0v25.47h-1.0zM550.9 295.0h1.0v25.47h-1.0zM597.9 295.0h1.0v25.47h-1.0zM614.0 295.0h1.0v25.47h-1.0zM637.5 295.0h1.0v25.47h-1.0zM660.4 295.0h1.0v25.47h-1.0zM892.9 295.0h1.0v25.47h-1.0zM949.6 295.0h1.0v25.47h-1.0zM973.1 295.0h1.0v25.47h-1.0zM1015.7 295.0h1.0v25.47h-1.0zM1038.6 295.0h1.0v25.47h-1.0zM1080.8 295.0h1.0v25.47h-1.0zM1235.5 295.0h1.0v25.47h-1.0zM1320.4 295.0h1.0v25.47h-1.0z"/>
<path fill="#8aa0b2" d="M501.9 295.0h1.0v25.47h-1.0zM506.0 295.0h1.0v25.47h-1.0zM509.0 295.0h1.0v25.47h-1.0zM501.8 295.0h1.0v25.47h-1.0zM506.0 295.0h1.0v25.47h-1.0zM508.3 295.0h1.0v25.47h-1.0zM510.7 295.0h1.0v25.47h-1.0zM529.7 295.0h1.0v25.47h-1.0zM531.8 295.0h1.0v25.47h-1.0zM534.1 295.0h1.0v25.47h-1.0zM539.4 295.0h1.0v25.47h-1.0zM558.2 295.0h1.0v25.47h-1.0zM561.2 295.0h1.0v25.47h-1.0zM575.8 295.0h1.0v25.47h-1.0zM602.3 295.0h1.0v25.47h-1.0zM621.3 295.0h1.0v25.47h-1.0zM623.4 295.0h1.0v25.47h-1.0zM628.7 295.0h1.0v25.47h-1.0zM646.3 295.0h1.0v25.47h-1.0zM653.6 295.0h1.0v25.47h-1.0zM656.6 295.0h1.0v25.47h-1.0zM674.2 295.0h1.0v25.47h-1.0zM679.2 295.0h1.0v25.47h-1.0zM688.9 295.0h1.0v25.47h-1.0zM690.3 295.0h1.0v25.47h-1.0zM705.9 295.0h1.0v25.47h-1.0zM708.0 295.0h1.0v25.47h-1.0zM711.5 295.0h1.0v25.47h-1.0zM718.2 295.0h1.0v25.47h-1.0zM721.8 295.0h1.0v25.47h-1.0zM730.0 295.0h1.0v25.47h-1.0zM735.8 295.0h1.0v25.47h-1.0zM743.2 295.0h1.0v25.47h-1.0zM747.6 295.0h1.0v25.47h-1.0zM752.6 295.0h1.0v25.47h-1.0zM756.4 295.0h1.0v25.47h-1.0zM763.7 295.0h1.0v25.47h-1.0zM767.3 295.0h1.0v25.47h-1.0zM772.5 295.0h1.0v25.47h-1.0zM788.7 295.0h1.0v25.47h-1.0zM793.1 295.0h1.0v25.47h-1.0zM806.3 295.0h1.0v25.47h-1.0zM807.8 295.0h1.0v25.47h-1.0zM813.7 295.0h1.0v25.47h-1.0zM823.9 295.0h1.0v25.47h-1.0zM832.7 295.0h1.0v25.47h-1.0zM837.1 295.0h1.0v25.47h-1.0zM850.4 295.0h1.0v25.47h-1.0zM856.5 295.0h1.0v25.47h-1.0zM860.9 295.0h1.0v25.47h-1.0zM881.5 295.0h1.0v25.47h-1.0zM902.0 295.0h1.0v25.47h-1.0zM904.1 295.0h1.0v25.47h-1.0zM918.2 295.0h1.0v25.47h-1.0zM931.4 295.0h1.0v25.47h-1.0zM938.1 295.0h1.0v25.47h-1.0zM963.4 295.0h1.0v25.47h-1.0zM965.7 295.0h1.0v25.47h-1.0zM983.4 295.0h1.0v25.47h-1.0zM995.1 295.0h1.0v25.47h-1.0zM1032.7 295.0h1.0v25.47h-1.0zM1055.3 295.0h1.0v25.47h-1.0zM1059.7 295.0h1.0v25.47h-1.0zM1082.6 295.0h1.0v25.47h-1.0zM1087.6 295.0h1.0v25.47h-1.0zM1105.2 295.0h1.0v25.47h-1.0zM1107.3 295.0h1.0v25.47h-1.0zM1135.4 295.0h1.0v25.47h-1.0zM1145.7 295.0h1.0v25.47h-1.0zM1163.9 295.0h1.0v25.47h-1.0zM1167.7 295.0h1.0v25.47h-1.0zM1177.1 295.0h1.0v25.47h-1.0zM1105.4 295.0h1.0v25.47h-1.0zM1107.4 295.0h1.0v25.47h-1.0zM1135.3 295.0h1.0v25.47h-1.0zM1145.6 295.0h1.0v25.47h-1.0zM1163.5 295.0h1.0v25.47h-1.0zM1167.1 295.0h1.0v25.47h-1.0zM1176.5 295.0h1.0v25.47h-1.0zM1181.8 295.0h1.0v25.47h-1.0zM1196.4 295.0h1.0v25.47h-1.0zM1203.8 295.0h1.0v25.47h-1.0zM1210.5 295.0h1.0v25.47h-1.0zM1227.9 295.0h1.0v25.47h-1.0zM1229.6 295.0h1.0v25.47h-1.0zM1243.4 295.0h1.0v25.47h-1.0zM1245.5 295.0h1.0v25.47h-1.0zM1264.6 295.0h1.0v25.47h-1.0zM1275.2 295.0h1.0v25.47h-1.0zM1284.6 295.0h1.0v25.47h-1.0zM1292.5 295.0h1.0v25.47h-1.0z"/>
<path fill="#b9b3e6" d="M353.0 320.5h1.9v25.47h-1.9zM359.7 320.5h0.7v25.47h-0.7zM362.2 320.5h0.7v25.47h-0.7zM364.3 320.5h2.3v25.47h-2.3zM370.0 320.5h0.6v25.47h-0.6zM374.3 320.5h1.3v25.47h-1.3zM383.4 320.5h1.6v25.47h-1.6zM390.0 320.5h0.7v25.47h-0.7zM392.4 320.5h1.2v25.47h-1.2zM397.8 320.5h1.4v25.47h-1.4zM405.4 320.5h0.9v25.47h-0.9zM436.7 320.5h0.8v25.47h-0.8zM447.6 320.5h2.1v25.47h-2.1zM454.5 320.5h2.3v25.47h-2.3zM466.9 320.5h2.0v25.47h-2.0zM471.5 320.5h1.2v25.47h-1.2zM478.8 320.5h0.9v25.47h-0.9z"/>
<path fill="#c9d7f8" d="M354.9 320.5h0.7v25.47h-0.7zM356.6 320.5h0.7v25.47h-0.7zM366.7 320.5h1.9v25.47h-1.9zM372.9 320.5h1.4v25.47h-1.4zM377.1 320.5h1.8v25.47h-1.8zM407.4 320.5h1.3v25.47h-1.3zM411.6 320.5h0.8v25.47h-0.8zM414.0 320.5h2.0v25.47h-2.0zM420.8 320.5h1.0v25.47h-1.0zM445.6 320.5h1.3v25.47h-1.3zM453.2 320.5h0.9v25.47h-0.9zM463.9 320.5h1.0v25.47h-1.0zM476.9 320.5h1.9v25.47h-1.9z"/>
<path fill="#abc6ee" d="M355.7 320.5h0.9v25.47h-0.9zM357.3 320.5h2.3v25.47h-2.3zM368.5 320.5h1.5v25.47h-1.5zM375.7 320.5h1.4v25.47h-1.4zM379.9 320.5h1.9v25.47h-1.9zM387.3 320.5h2.7v25.47h-2.7zM402.8 320.5h2.6v25.47h-2.6zM413.0 320.5h1.0v25.47h-1.0zM419.2 320.5h0.9v25.47h-0.9zM421.8 320.5h2.0v25.47h-2.0zM425.5 320.5h2.7v25.47h-2.7zM430.5 320.5h2.4v25.47h-2.4zM434.1 320.5h1.6v25.47h-1.6zM438.8 320.5h2.5v25.47h-2.5zM449.7 320.5h1.1v25.47h-1.1zM461.6 320.5h2.3v25.47h-2.3zM464.9 320.5h1.9v25.47h-1.9zM468.8 320.5h1.8v25.47h-1.8zM474.7 320.5h1.1v25.47h-1.1zM479.7 320.5h1.8v25.47h-1.8z"/>
<path fill="#a2c3cd" d="M360.4 320.5h1.8v25.47h-1.8zM363.0 320.5h1.3v25.47h-1.3zM395.8 320.5h2.0v25.47h-2.0zM408.7 320.5h1.8v25.47h-1.8zM420.1 320.5h0.7v25.47h-0.7zM435.6 320.5h1.0v25.47h-1.0zM437.5 320.5h1.4v25.47h-1.4zM459.3 320.5h0.7v25.47h-0.7zM470.7 320.5h0.9v25.47h-0.9z"/>
<path fill="#86bca8" d="M370.6 320.5h1.0v25.47h-1.0zM399.2 320.5h1.2v25.47h-1.2zM432.9 320.5h1.2v25.47h-1.2zM442.9 320.5h1.4v25.47h-1.4zM446.9 320.5h0.7v25.47h-0.7zM475.9 320.5h1.1v25.47h-1.1z"/>
<path fill="#93cdb4" d="M371.6 320.5h1.3v25.47h-1.3zM378.9 320.5h1.1v25.47h-1.1zM381.8 320.5h1.6v25.47h-1.6zM385.0 320.5h2.2v25.47h-2.2zM390.7 320.5h1.7v25.47h-1.7zM393.6 320.5h2.2v25.47h-2.2zM400.9 320.5h1.9v25.47h-1.9zM410.5 320.5h1.1v25.47h-1.1zM416.0 320.5h2.0v25.47h-2.0zM423.7 320.5h1.8v25.47h-1.8zM428.2 320.5h2.3v25.47h-2.3zM444.2 320.5h1.4v25.47h-1.4zM450.8 320.5h2.4v25.47h-2.4zM456.8 320.5h2.5v25.47h-2.5zM460.0 320.5h1.6v25.47h-1.6zM472.8 320.5h2.0v25.47h-2.0z"/>
<path fill="#d7a8de" d="M400.4 320.5h0.5v25.47h-0.5zM406.3 320.5h1.1v25.47h-1.1zM412.4 320.5h0.7v25.47h-0.7zM418.0 320.5h1.2v25.47h-1.2zM441.3 320.5h1.6v25.47h-1.6zM454.1 320.5h0.5v25.47h-0.5z"/>
<path fill="#b2caf7" d="M481.5 320.5h6.8v25.47h-6.8zM489.1 320.5h4.1v25.47h-4.1zM495.2 320.5h10.4v25.47h-10.4zM508.7 320.5h3.0v25.47h-3.0zM515.3 320.5h4.7v25.47h-4.7zM522.5 320.5h7.8v25.47h-7.8zM532.5 320.5h9.3v25.47h-9.3zM542.6 320.5h6.0v25.47h-6.0zM550.1 320.5h5.5v25.47h-5.5zM560.0 320.5h9.1v25.47h-9.1zM574.2 320.5h8.6v25.47h-8.6zM596.1 320.5h10.4v25.47h-10.4zM609.2 320.5h9.6v25.47h-9.6zM627.7 320.5h8.0v25.47h-8.0zM639.4 320.5h2.9v25.47h-2.9zM644.8 320.5h4.5v25.47h-4.5zM650.5 320.5h3.4v25.47h-3.4zM657.5 320.5h10.5v25.47h-10.5zM670.3 320.5h6.8v25.47h-6.8zM679.1 320.5h9.5v25.47h-9.5zM691.4 320.5h3.5v25.47h-3.5zM697.2 320.5h5.8v25.47h-5.8zM706.7 320.5h10.5v25.47h-10.5zM719.1 320.5h7.0v25.47h-7.0zM728.5 320.5h5.7v25.47h-5.7zM739.7 320.5h5.4v25.47h-5.4zM748.0 320.5h7.5v25.47h-7.5zM756.3 320.5h8.8v25.47h-8.8zM772.4 320.5h10.6v25.47h-10.6zM785.0 320.5h4.0v25.47h-4.0zM792.2 320.5h6.9v25.47h-6.9zM801.1 320.5h3.2v25.47h-3.2zM807.3 320.5h5.2v25.47h-5.2zM813.8 320.5h6.3v25.47h-6.3zM821.6 320.5h10.1v25.47h-10.1zM833.9 320.5h8.9v25.47h-8.9zM845.6 320.5h10.2v25.47h-10.2zM858.7 320.5h10.4v25.47h-10.4zM871.2 320.5h4.6v25.47h-4.6zM886.6 320.5h5.9v25.47h-5.9zM893.5 320.5h9.8v25.47h-9.8zM905.7 320.5h5.5v25.47h-5.5zM913.9 320.5h9.6v25.47h-9.6zM925.2 320.5h8.2v25.47h-8.2zM941.6 320.5h8.5v25.47h-8.5zM951.9 320.5h3.3v25.47h-3.3zM957.4 320.5h4.5v25.47h-4.5zM967.0 320.5h7.9v25.47h-7.9zM977.0 320.5h9.5v25.47h-9.5zM987.8 320.5h7.4v25.47h-7.4zM998.7 320.5h6.2v25.47h-6.2zM1006.9 320.5h6.9v25.47h-6.9zM1019.9 320.5h10.8v25.47h-10.8zM1032.7 320.5h5.5v25.47h-5.5zM1039.4 320.5h4.3v25.47h-4.3zM1044.7 320.5h7.3v25.47h-7.3zM1059.5 320.5h2.8v25.47h-2.8zM1064.9 320.5h4.1v25.47h-4.1zM1071.5 320.5h3.1v25.47h-3.1zM1077.3 320.5h3.6v25.47h-3.6zM1086.7 320.5h7.3v25.47h-7.3zM1096.6 320.5h8.7v25.47h-8.7zM1107.0 320.5h2.8v25.47h-2.8zM1111.2 320.5h9.5v25.47h-9.5zM1121.8 320.5h10.0v25.47h-10.0zM1134.1 320.5h7.9v25.47h-7.9zM1143.8 320.5h7.5v25.47h-7.5zM1153.2 320.5h3.3v25.47h-3.3zM1157.0 320.5h6.0v25.47h-6.0zM1165.0 320.5h8.0v25.47h-8.0zM1174.6 320.5h10.1v25.47h-10.1zM1185.5 320.5h10.8v25.47h-10.8zM1200.0 320.5h3.5v25.47h-3.5zM1206.2 320.5h3.1v25.47h-3.1zM1214.5 320.5h2.9v25.47h-2.9zM1220.5 320.5h9.3v25.47h-9.3zM1233.5 320.5h7.8v25.47h-7.8zM1243.5 320.5h3.2v25.47h-3.2zM1247.8 320.5h2.8v25.47h-2.8zM1252.6 320.5h3.7v25.47h-3.7zM1257.4 320.5h3.6v25.47h-3.6zM1263.1 320.5h3.5v25.47h-3.5zM1268.9 320.5h5.2v25.47h-5.2zM1277.8 320.5h3.6v25.47h-3.6zM1283.2 320.5h6.4v25.47h-6.4zM1297.3 320.5h8.3v25.47h-8.3zM1307.8 320.5h8.5v25.47h-8.5zM1323.0 320.5h4.8v25.47h-4.8zM1330.7 320.5h3.8v25.47h-3.8z"/>
<path fill="#c3d5f9" d="M488.3 320.5h0.9v25.47h-0.9zM506.9 320.5h1.1v25.47h-1.1zM512.7 320.5h1.1v25.47h-1.1zM520.0 320.5h2.5v25.47h-2.5zM530.3 320.5h2.2v25.47h-2.2zM571.7 320.5h1.0v25.47h-1.0zM591.6 320.5h1.5v25.47h-1.5zM621.3 320.5h1.4v25.47h-1.4zM624.3 320.5h2.4v25.47h-2.4zM636.6 320.5h2.2v25.47h-2.2zM643.3 320.5h1.5v25.47h-1.5zM654.0 320.5h1.5v25.47h-1.5zM656.1 320.5h0.7v25.47h-0.7zM694.9 320.5h2.3v25.47h-2.3zM705.9 320.5h0.8v25.47h-0.8zM717.3 320.5h1.9v25.47h-1.9zM726.1 320.5h2.4v25.47h-2.4zM736.4 320.5h1.5v25.47h-1.5zM755.5 320.5h0.7v25.47h-0.7zM765.1 320.5h1.2v25.47h-1.2zM767.2 320.5h1.4v25.47h-1.4zM783.0 320.5h2.0v25.47h-2.0zM789.0 320.5h2.2v25.47h-2.2zM842.8 320.5h1.9v25.47h-1.9zM855.8 320.5h1.1v25.47h-1.1zM869.1 320.5h2.1v25.47h-2.1zM882.0 320.5h1.0v25.47h-1.0zM903.4 320.5h2.4v25.47h-2.4zM912.5 320.5h1.4v25.47h-1.4zM939.3 320.5h2.3v25.47h-2.3zM950.1 320.5h1.8v25.47h-1.8zM955.1 320.5h2.2v25.47h-2.2zM961.8 320.5h2.5v25.47h-2.5zM965.3 320.5h0.8v25.47h-0.8zM974.8 320.5h2.2v25.47h-2.2zM986.5 320.5h1.3v25.47h-1.3zM997.4 320.5h0.7v25.47h-0.7zM1004.8 320.5h2.0v25.47h-2.0zM1013.8 320.5h1.1v25.47h-1.1zM1030.7 320.5h2.0v25.47h-2.0zM1043.7 320.5h1.0v25.47h-1.0zM1052.0 320.5h2.5v25.47h-2.5zM1063.7 320.5h1.1v25.47h-1.1zM1068.9 320.5h2.5v25.47h-2.5zM1109.8 320.5h1.4v25.47h-1.4zM1131.8 320.5h2.3v25.47h-2.3zM1151.3 320.5h1.9v25.47h-1.9zM1163.0 320.5h2.0v25.47h-2.0zM1173.0 320.5h1.5v25.47h-1.5zM1184.7 320.5h0.8v25.47h-0.8zM1197.9 320.5h2.1v25.47h-2.1zM1210.6 320.5h2.4v25.47h-2.4zM1241.3 320.5h2.2v25.47h-2.2zM1246.6 320.5h1.2v25.47h-1.2zM1256.4 320.5h1.0v25.47h-1.0zM1274.8 320.5h2.5v25.47h-2.5zM1281.4 320.5h1.8v25.47h-1.8zM1289.7 320.5h1.9v25.47h-1.9z"/>
<path fill="#a9c0f0" d="M493.2 320.5h2.0v25.47h-2.0zM511.7 320.5h1.0v25.47h-1.0zM541.8 320.5h0.8v25.47h-0.8zM555.7 320.5h3.2v25.47h-3.2zM569.1 320.5h2.6v25.47h-2.6zM582.8 320.5h2.4v25.47h-2.4zM587.6 320.5h2.6v25.47h-2.6zM594.6 320.5h1.5v25.47h-1.5zM606.6 320.5h2.7v25.47h-2.7zM618.8 320.5h2.4v25.47h-2.4zM668.1 320.5h2.3v25.47h-2.3zM677.1 320.5h2.0v25.47h-2.0zM688.6 320.5h1.9v25.47h-1.9zM703.0 320.5h2.9v25.47h-2.9zM734.2 320.5h0.9v25.47h-0.9zM745.1 320.5h2.9v25.47h-2.9zM768.6 320.5h2.4v25.47h-2.4zM799.1 320.5h1.2v25.47h-1.2zM804.2 320.5h3.1v25.47h-3.1zM812.6 320.5h1.3v25.47h-1.3zM820.1 320.5h1.4v25.47h-1.4zM884.0 320.5h2.6v25.47h-2.6zM934.6 320.5h3.0v25.47h-3.0zM1014.8 320.5h3.2v25.47h-3.2zM1056.4 320.5h2.5v25.47h-2.5zM1074.5 320.5h2.7v25.47h-2.7zM1082.0 320.5h3.0v25.47h-3.0zM1094.1 320.5h2.5v25.47h-2.5zM1142.0 320.5h1.7v25.47h-1.7zM1203.4 320.5h2.7v25.47h-2.7zM1209.3 320.5h1.3v25.47h-1.3zM1213.0 320.5h1.4v25.47h-1.4zM1218.0 320.5h2.5v25.47h-2.5zM1231.5 320.5h0.8v25.47h-0.8zM1261.0 320.5h2.1v25.47h-2.1zM1291.5 320.5h2.6v25.47h-2.6zM1306.6 320.5h1.2v25.47h-1.2zM1316.3 320.5h2.4v25.47h-2.4zM1320.3 320.5h2.6v25.47h-2.6zM1327.7 320.5h3.0v25.47h-3.0z"/>
<path fill="#bdb7f1" d="M505.6 320.5h1.3v25.47h-1.3zM508.0 320.5h0.7v25.47h-0.7zM513.8 320.5h1.5v25.47h-1.5zM548.7 320.5h1.5v25.47h-1.5zM558.9 320.5h1.2v25.47h-1.2zM585.2 320.5h0.7v25.47h-0.7zM622.6 320.5h1.6v25.47h-1.6zM638.9 320.5h0.5v25.47h-0.5zM642.2 320.5h1.1v25.47h-1.1zM655.5 320.5h0.7v25.47h-0.7zM690.5 320.5h0.8v25.47h-0.8zM737.9 320.5h1.8v25.47h-1.8zM766.3 320.5h0.9v25.47h-0.9zM771.0 320.5h1.5v25.47h-1.5zM791.2 320.5h1.0v25.47h-1.0zM800.3 320.5h0.7v25.47h-0.7zM833.0 320.5h0.9v25.47h-0.9zM844.8 320.5h0.9v25.47h-0.9zM857.0 320.5h0.5v25.47h-0.5zM883.0 320.5h1.0v25.47h-1.0zM892.5 320.5h1.0v25.47h-1.0zM923.6 320.5h1.7v25.47h-1.7zM933.4 320.5h1.2v25.47h-1.2zM937.6 320.5h1.7v25.47h-1.7zM964.3 320.5h1.0v25.47h-1.0zM995.2 320.5h0.8v25.47h-0.8zM998.1 320.5h0.5v25.47h-0.5zM1018.0 320.5h1.9v25.47h-1.9zM1038.2 320.5h1.2v25.47h-1.2zM1054.5 320.5h1.8v25.47h-1.8zM1058.9 320.5h0.6v25.47h-0.6zM1080.8 320.5h1.2v25.47h-1.2zM1085.0 320.5h1.2v25.47h-1.2zM1105.3 320.5h1.7v25.47h-1.7zM1120.6 320.5h1.1v25.47h-1.1zM1156.4 320.5h0.6v25.47h-0.6zM1196.2 320.5h1.7v25.47h-1.7zM1217.3 320.5h0.6v25.47h-0.6zM1229.8 320.5h1.8v25.47h-1.8zM1250.6 320.5h0.5v25.47h-0.5zM1266.6 320.5h1.7v25.47h-1.7zM1274.1 320.5h0.7v25.47h-0.7zM1277.3 320.5h0.5v25.47h-0.5zM1294.1 320.5h1.8v25.47h-1.8zM1318.7 320.5h1.7v25.47h-1.7z"/>
<path fill="#dcaee4" d="M572.7 320.5h1.5v25.47h-1.5zM585.9 320.5h1.7v25.47h-1.7zM590.2 320.5h1.5v25.47h-1.5zM593.1 320.5h1.5v25.47h-1.5zM626.7 320.5h1.0v25.47h-1.0zM635.7 320.5h0.9v25.47h-0.9zM649.3 320.5h1.3v25.47h-1.3zM656.8 320.5h0.7v25.47h-0.7zM735.1 320.5h1.3v25.47h-1.3zM831.7 320.5h1.3v25.47h-1.3zM857.5 320.5h1.2v25.47h-1.2zM911.2 320.5h1.3v25.47h-1.3zM966.1 320.5h0.9v25.47h-0.9zM995.9 320.5h1.5v25.47h-1.5zM1062.3 320.5h1.4v25.47h-1.4zM1086.1 320.5h0.6v25.47h-0.6zM1232.4 320.5h1.2v25.47h-1.2zM1251.1 320.5h1.5v25.47h-1.5zM1268.3 320.5h0.6v25.47h-0.6zM1295.9 320.5h1.4v25.47h-1.4zM1305.6 320.5h1.0v25.47h-1.0z"/>
<path fill="#bcb5f0" d="M501.8 320.5h1.3v25.47h-1.3zM505.9 320.5h1.3v25.47h-1.3zM508.9 320.5h1.3v25.47h-1.3zM501.7 320.5h1.3v25.47h-1.3zM505.9 320.5h1.3v25.47h-1.3zM508.2 320.5h1.3v25.47h-1.3zM510.6 320.5h1.3v25.47h-1.3zM529.6 320.5h1.3v25.47h-1.3zM531.7 320.5h1.3v25.47h-1.3zM534.0 320.5h1.3v25.47h-1.3zM539.3 320.5h1.3v25.47h-1.3zM558.1 320.5h1.3v25.47h-1.3zM561.1 320.5h1.3v25.47h-1.3zM575.7 320.5h1.3v25.47h-1.3zM602.2 320.5h1.3v25.47h-1.3zM621.2 320.5h1.3v25.47h-1.3zM623.3 320.5h1.3v25.47h-1.3zM628.6 320.5h1.3v25.47h-1.3zM646.2 320.5h1.3v25.47h-1.3zM653.5 320.5h1.3v25.47h-1.3zM656.5 320.5h1.3v25.47h-1.3zM674.1 320.5h1.3v25.47h-1.3zM679.1 320.5h1.3v25.47h-1.3zM688.8 320.5h1.3v25.47h-1.3zM690.2 320.5h1.3v25.47h-1.3zM705.8 320.5h1.3v25.47h-1.3zM707.9 320.5h1.3v25.47h-1.3zM711.4 320.5h1.3v25.47h-1.3zM718.1 320.5h1.3v25.47h-1.3zM721.7 320.5h1.3v25.47h-1.3zM729.9 320.5h1.3v25.47h-1.3zM735.7 320.5h1.3v25.47h-1.3zM743.1 320.5h1.3v25.47h-1.3zM747.5 320.5h1.3v25.47h-1.3zM752.5 320.5h1.3v25.47h-1.3zM756.3 320.5h1.3v25.47h-1.3zM763.6 320.5h1.3v25.47h-1.3zM767.2 320.5h1.3v25.47h-1.3zM772.4 320.5h1.3v25.47h-1.3zM788.6 320.5h1.3v25.47h-1.3zM793.0 320.5h1.3v25.47h-1.3zM806.2 320.5h1.3v25.47h-1.3zM807.7 320.5h1.3v25.47h-1.3zM813.6 320.5h1.3v25.47h-1.3zM823.8 320.5h1.3v25.47h-1.3zM832.6 320.5h1.3v25.47h-1.3zM837.0 320.5h1.3v25.47h-1.3zM850.3 320.5h1.3v25.47h-1.3zM856.4 320.5h1.3v25.47h-1.3zM860.8 320.5h1.3v25.47h-1.3zM881.4 320.5h1.3v25.47h-1.3zM901.9 320.5h1.3v25.47h-1.3zM904.0 320.5h1.3v25.47h-1.3zM918.1 320.5h1.3v25.47h-1.3zM931.3 320.5h1.3v25.47h-1.3zM938.0 320.5h1.3v25.47h-1.3zM963.3 320.5h1.3v25.47h-1.3zM965.6 320.5h1.3v25.47h-1.3zM983.3 320.5h1.3v25.47h-1.3zM995.0 320.5h1.3v25.47h-1.3zM1032.6 320.5h1.3v25.47h-1.3zM1055.2 320.5h1.3v25.47h-1.3zM1059.6 320.5h1.3v25.47h-1.3zM1082.5 320.5h1.3v25.47h-1.3zM1087.5 320.5h1.3v25.47h-1.3zM1105.1 320.5h1.3v25.47h-1.3zM1107.2 320.5h1.3v25.47h-1.3zM1135.3 320.5h1.3v25.47h-1.3zM1145.6 320.5h1.3v25.47h-1.3zM1163.8 320.5h1.3v25.47h-1.3zM1167.6 320.5h1.3v25.47h-1.3zM1177.0 320.5h1.3v25.47h-1.3zM1105.3 320.5h1.3v25.47h-1.3zM1107.3 320.5h1.3v25.47h-1.3zM1135.2 320.5h1.3v25.47h-1.3zM1145.5 320.5h1.3v25.47h-1.3zM1163.4 320.5h1.3v25.47h-1.3zM1167.0 320.5h1.3v25.47h-1.3zM1176.4 320.5h1.3v25.47h-1.3zM1181.7 320.5h1.3v25.47h-1.3zM1196.3 320.5h1.3v25.47h-1.3zM1203.7 320.5h1.3v25.47h-1.3zM1210.4 320.5h1.3v25.47h-1.3zM1227.8 320.5h1.3v25.47h-1.3zM1229.5 320.5h1.3v25.47h-1.3zM1243.3 320.5h1.3v25.47h-1.3zM1245.4 320.5h1.3v25.47h-1.3zM1264.5 320.5h1.3v25.47h-1.3zM1275.1 320.5h1.3v25.47h-1.3zM1284.5 320.5h1.3v25.47h-1.3zM1292.4 320.5h1.3v25.47h-1.3z"/>
<path fill="#d6a9e2" d="M521.4 320.5h1.3v25.47h-1.3zM550.8 320.5h1.3v25.47h-1.3zM597.8 320.5h1.3v25.47h-1.3zM613.9 320.5h1.3v25.47h-1.3zM637.4 320.5h1.3v25.47h-1.3zM660.3 320.5h1.3v25.47h-1.3zM892.8 320.5h1.3v25.47h-1.3zM949.5 320.5h1.3v25.47h-1.3zM973.0 320.5h1.3v25.47h-1.3zM1015.6 320.5h1.3v25.47h-1.3zM1038.5 320.5h1.3v25.47h-1.3zM1080.7 320.5h1.3v25.47h-1.3zM1235.4 320.5h1.3v25.47h-1.3zM1320.3 320.5h1.3v25.47h-1.3z"/>
<path fill="#8fbf9f" d="M353.0 346.0h2.2v25.47h-2.2zM355.2 346.0h1.4v25.47h-1.4zM356.5 346.0h2.7v25.47h-2.7zM359.2 346.0h1.9v25.47h-1.9z"/>
<path fill="#b9cef5" d="M362.9 346.0h2.1v25.47h-2.1zM369.8 346.0h1.3v25.47h-1.3zM371.7 346.0h2.5v25.47h-2.5zM378.8 346.0h1.4v25.47h-1.4zM381.2 346.0h3.0v25.47h-3.0zM387.3 346.0h1.0v25.47h-1.0zM389.2 346.0h2.0v25.47h-2.0zM392.6 346.0h2.6v25.47h-2.6zM399.5 346.0h2.8v25.47h-2.8zM403.9 346.0h0.9v25.47h-0.9zM407.1 346.0h1.2v25.47h-1.2zM410.9 346.0h1.0v25.47h-1.0zM416.9 346.0h1.4v25.47h-1.4zM421.5 346.0h1.3v25.47h-1.3zM428.1 346.0h0.9v25.47h-0.9zM430.7 346.0h1.9v25.47h-1.9zM433.6 346.0h1.7v25.47h-1.7zM438.3 346.0h2.5v25.47h-2.5zM444.1 346.0h3.0v25.47h-3.0zM447.9 346.0h2.8v25.47h-2.8zM453.9 346.0h2.4v25.47h-2.4zM458.3 346.0h0.9v25.47h-0.9zM460.7 346.0h1.9v25.47h-1.9zM464.2 346.0h2.0v25.47h-2.0zM467.5 346.0h2.7v25.47h-2.7zM473.2 346.0h2.2v25.47h-2.2zM476.0 346.0h0.9v25.47h-0.9zM477.9 346.0h2.5v25.47h-2.5z"/>
<path fill="#cbd9f8" d="M365.0 346.0h1.6v25.47h-1.6zM367.5 346.0h2.3v25.47h-2.3zM376.9 346.0h1.9v25.47h-1.9zM380.2 346.0h1.0v25.47h-1.0zM384.2 346.0h1.6v25.47h-1.6zM397.2 346.0h0.8v25.47h-0.8zM405.5 346.0h1.6v25.47h-1.6zM409.3 346.0h1.6v25.47h-1.6zM413.4 346.0h0.9v25.47h-0.9zM424.1 346.0h1.4v25.47h-1.4zM426.1 346.0h2.1v25.47h-2.1zM429.9 346.0h0.8v25.47h-0.8zM451.9 346.0h0.8v25.47h-0.8zM459.2 346.0h1.5v25.47h-1.5zM462.6 346.0h1.5v25.47h-1.5z"/>
<path fill="#dfe8fb" d="M366.5 346.0h1.0v25.47h-1.0zM371.1 346.0h0.5v25.47h-0.5zM374.1 346.0h0.7v25.47h-0.7zM391.2 346.0h1.4v25.47h-1.4zM398.0 346.0h0.9v25.47h-0.9zM404.8 346.0h0.7v25.47h-0.7zM408.3 346.0h1.0v25.47h-1.0zM412.4 346.0h1.0v25.47h-1.0zM442.5 346.0h1.6v25.47h-1.6zM450.8 346.0h1.1v25.47h-1.1zM457.2 346.0h1.1v25.47h-1.1zM470.2 346.0h1.5v25.47h-1.5zM472.5 346.0h0.7v25.47h-0.7zM475.4 346.0h0.6v25.47h-0.6z"/>
<path fill="#a6d9c6" d="M374.9 346.0h2.0v25.47h-2.0zM388.3 346.0h1.0v25.47h-1.0zM395.2 346.0h2.0v25.47h-2.0zM415.2 346.0h1.7v25.47h-1.7zM419.3 346.0h2.2v25.47h-2.2zM422.8 346.0h1.4v25.47h-1.4zM429.0 346.0h0.9v25.47h-0.9zM432.7 346.0h0.9v25.47h-0.9zM435.3 346.0h2.5v25.47h-2.5zM452.6 346.0h1.3v25.47h-1.3zM456.3 346.0h0.9v25.47h-0.9zM476.9 346.0h1.0v25.47h-1.0zM482.2 346.0h0.8v25.47h-0.8z"/>
<path fill="#97ccb8" d="M398.9 346.0h0.6v25.47h-0.6zM402.3 346.0h1.6v25.47h-1.6zM414.3 346.0h0.9v25.47h-0.9zM418.3 346.0h1.0v25.47h-1.0z"/>
<path fill="#c7bdec" d="M411.9 346.0h0.6v25.47h-0.6zM425.6 346.0h0.5v25.47h-0.5zM471.6 346.0h0.8v25.47h-0.8z"/>
<path fill="#f29a9a" d="M490.6 346.0h1.3v25.47h-1.3zM521.4 346.0h1.3v25.47h-1.3zM597.8 346.0h1.3v25.47h-1.3zM613.9 346.0h1.3v25.47h-1.3zM637.4 346.0h1.3v25.47h-1.3zM892.8 346.0h1.3v25.47h-1.3zM949.5 346.0h1.3v25.47h-1.3zM973.0 346.0h1.3v25.47h-1.3zM1015.6 346.0h1.3v25.47h-1.3zM1038.5 346.0h1.3v25.47h-1.3zM1080.7 346.0h1.3v25.47h-1.3zM1320.3 346.0h1.3v25.47h-1.3z"/>
<path fill="#b7cbf4" d="M501.8 346.0h1.3v25.47h-1.3zM505.9 346.0h1.3v25.47h-1.3zM508.9 346.0h1.3v25.47h-1.3zM501.7 346.0h1.3v25.47h-1.3zM505.9 346.0h1.3v25.47h-1.3zM508.2 346.0h1.3v25.47h-1.3zM510.6 346.0h1.3v25.47h-1.3zM529.6 346.0h1.3v25.47h-1.3zM531.7 346.0h1.3v25.47h-1.3zM534.0 346.0h1.3v25.47h-1.3zM539.3 346.0h1.3v25.47h-1.3zM558.1 346.0h1.3v25.47h-1.3zM561.1 346.0h1.3v25.47h-1.3zM575.7 346.0h1.3v25.47h-1.3zM602.2 346.0h1.3v25.47h-1.3zM621.2 346.0h1.3v25.47h-1.3zM623.3 346.0h1.3v25.47h-1.3zM628.6 346.0h1.3v25.47h-1.3zM646.2 346.0h1.3v25.47h-1.3zM653.5 346.0h1.3v25.47h-1.3zM656.5 346.0h1.3v25.47h-1.3zM674.1 346.0h1.3v25.47h-1.3zM679.1 346.0h1.3v25.47h-1.3zM688.8 346.0h1.3v25.47h-1.3zM690.2 346.0h1.3v25.47h-1.3zM705.8 346.0h1.3v25.47h-1.3zM707.9 346.0h1.3v25.47h-1.3zM711.4 346.0h1.3v25.47h-1.3zM718.1 346.0h1.3v25.47h-1.3zM721.7 346.0h1.3v25.47h-1.3zM729.9 346.0h1.3v25.47h-1.3zM735.7 346.0h1.3v25.47h-1.3zM743.1 346.0h1.3v25.47h-1.3zM747.5 346.0h1.3v25.47h-1.3zM752.5 346.0h1.3v25.47h-1.3zM756.3 346.0h1.3v25.47h-1.3zM763.6 346.0h1.3v25.47h-1.3zM767.2 346.0h1.3v25.47h-1.3zM772.4 346.0h1.3v25.47h-1.3zM788.6 346.0h1.3v25.47h-1.3zM793.0 346.0h1.3v25.47h-1.3zM806.2 346.0h1.3v25.47h-1.3zM807.7 346.0h1.3v25.47h-1.3zM813.6 346.0h1.3v25.47h-1.3zM823.8 346.0h1.3v25.47h-1.3zM832.6 346.0h1.3v25.47h-1.3zM837.0 346.0h1.3v25.47h-1.3zM850.3 346.0h1.3v25.47h-1.3zM856.4 346.0h1.3v25.47h-1.3zM860.8 346.0h1.3v25.47h-1.3zM881.4 346.0h1.3v25.47h-1.3zM901.9 346.0h1.3v25.47h-1.3zM904.0 346.0h1.3v25.47h-1.3zM918.1 346.0h1.3v25.47h-1.3zM931.3 346.0h1.3v25.47h-1.3zM938.0 346.0h1.3v25.47h-1.3zM963.3 346.0h1.3v25.47h-1.3zM965.6 346.0h1.3v25.47h-1.3zM983.3 346.0h1.3v25.47h-1.3zM995.0 346.0h1.3v25.47h-1.3zM1032.6 346.0h1.3v25.47h-1.3zM1055.2 346.0h1.3v25.47h-1.3zM1059.6 346.0h1.3v25.47h-1.3zM1082.5 346.0h1.3v25.47h-1.3zM1087.5 346.0h1.3v25.47h-1.3zM1105.1 346.0h1.3v25.47h-1.3zM1107.2 346.0h1.3v25.47h-1.3zM1135.3 346.0h1.3v25.47h-1.3zM1145.6 346.0h1.3v25.47h-1.3zM1163.8 346.0h1.3v25.47h-1.3zM1167.6 346.0h1.3v25.47h-1.3zM1177.0 346.0h1.3v25.47h-1.3zM1105.3 346.0h1.3v25.47h-1.3zM1107.3 346.0h1.3v25.47h-1.3zM1135.2 346.0h1.3v25.47h-1.3zM1145.5 346.0h1.3v25.47h-1.3zM1163.4 346.0h1.3v25.47h-1.3zM1167.0 346.0h1.3v25.47h-1.3zM1176.4 346.0h1.3v25.47h-1.3zM1181.7 346.0h1.3v25.47h-1.3zM1196.3 346.0h1.3v25.47h-1.3zM1203.7 346.0h1.3v25.47h-1.3zM1210.4 346.0h1.3v25.47h-1.3zM1227.8 346.0h1.3v25.47h-1.3zM1229.5 346.0h1.3v25.47h-1.3zM1243.3 346.0h1.3v25.47h-1.3zM1245.4 346.0h1.3v25.47h-1.3zM1264.5 346.0h1.3v25.47h-1.3zM1275.1 346.0h1.3v25.47h-1.3zM1284.5 346.0h1.3v25.47h-1.3zM1292.4 346.0h1.3v25.47h-1.3z"/>
<path fill="#9fd4b4" d="M550.8 346.0h1.3v25.47h-1.3zM660.3 346.0h1.3v25.47h-1.3zM1235.4 346.0h1.3v25.47h-1.3z"/>
<path fill="#93d3b6" d="M353.0 371.4h9.5v25.47h-9.5z"/>
<path fill="#7fbfa0" d="M353.0 371.4h2.0v25.47h-2.0z"/>
<path fill="#b7cbf4" d="M363.6 371.4h1.1v25.47h-1.1zM370.3 371.4h1.1v25.47h-1.1zM377.7 371.4h1.1v25.47h-1.1zM415.3 371.4h1.1v25.47h-1.1zM440.8 371.4h1.1v25.47h-1.1zM468.1 371.4h1.1v25.47h-1.1zM490.7 371.4h1.1v25.47h-1.1z"/>
<path fill="#9fd4b4" d="M366.5 371.4h1.1v25.47h-1.1zM383.6 371.4h1.1v25.47h-1.1zM393.0 371.4h1.1v25.47h-1.1z"/>
<path fill="#f2a07a" d="M401.8 371.4h1.1v25.47h-1.1z"/>
<path fill="#c3d3f6" d="M521.5 371.4h1.1v25.47h-1.1zM597.9 371.4h1.1v25.47h-1.1zM614.0 371.4h1.1v25.47h-1.1zM637.5 371.4h1.1v25.47h-1.1zM660.4 371.4h1.1v25.47h-1.1zM892.9 371.4h1.1v25.47h-1.1zM949.6 371.4h1.1v25.47h-1.1zM973.1 371.4h1.1v25.47h-1.1zM1015.7 371.4h1.1v25.47h-1.1zM1038.6 371.4h1.1v25.47h-1.1zM1081.7 371.4h1.1v25.47h-1.1zM1105.2 371.4h1.1v25.47h-1.1zM1105.4 371.4h1.1v25.47h-1.1zM1320.4 371.4h1.1v25.47h-1.1z"/>
<path fill="#8fcfb0" d="M353.0 396.9h1.6v25.47h-1.6z"/>
<path fill="#f3ac7a" d="M401.8 396.9h1.0v25.47h-1.0z"/>
<rect x="1341.2" y="244.1" width="1" height="25.47" fill="#ea6fb0" opacity="0.8"/>
<rect x="1341.2" y="269.6" width="1" height="25.47" fill="#8fd9a2" opacity="0.8"/>
<rect x="1341.2" y="295.0" width="1" height="25.47" fill="#ee9adc" opacity="0.8"/>
<rect x="1341.2" y="320.5" width="1" height="25.47" fill="#b2caf7" opacity="0.8"/>
</g>
<g fill="#6b7076" opacity="0.22">
<rect x="560.8" y="244" width="1.2" height="102"/>
<rect x="769.1" y="244" width="1.2" height="102"/>
<rect x="977.4" y="244" width="1.2" height="102"/>
<rect x="1185.7" y="244" width="1.2" height="102"/>
</g>
<!-- summary tracks -->
<g id="summary">
<path fill="#8f8f8f" d="M356 483.6L356.8 482.6L370.8 482.6L370.8 482.6L384.8 482.6L384.8 482.6L398.7 482.6L398.7 482.6L412.7 482.6L412.7 482.6L426.7 482.6L426.7 482.6L440.7 482.6L440.7 482.6L454.6 482.6L454.6 482.0L468.6 482.0L468.6 482.6L482.6 482.6L482.6 480.6L496.6 480.6L496.6 481.6L510.5 481.6L510.5 480.6L524.5 480.6L524.5 481.6L538.5 481.6L538.5 481.6L552.5 481.6L552.5 480.6L566.4 480.6L566.4 481.6L580.4 481.6L580.4 481.6L594.4 481.6L594.4 481.6L608.4 481.6L608.4 481.6L622.3 481.6L622.3 480.6L636.3 480.6L636.3 480.6L650.3 480.6L650.3 480.6L664.3 480.6L664.3 480.6L678.2 480.6L678.2 480.6L692.2 480.6L692.2 481.6L706.2 481.6L706.2 480.6L720.2 480.6L720.2 481.6L734.2 481.6L734.2 480.6L748.1 480.6L748.1 480.6L762.1 480.6L762.1 480.6L776.1 480.6L776.1 481.6L790.1 481.6L790.1 480.6L804.0 480.6L804.0 479.6L818.0 479.6L818.0 481.6L832.0 481.6L832.0 480.6L846.0 480.6L846.0 480.6L859.9 480.6L859.9 482.6L873.9 482.6L873.9 482.6L887.9 482.6L887.9 480.6L901.9 480.6L901.9 480.6L915.8 480.6L915.8 481.6L929.8 481.6L929.8 480.6L943.8 480.6L943.8 481.6L957.8 481.6L957.8 480.6L971.7 480.6L971.7 481.6L985.7 481.6L985.7 480.6L999.7 480.6L999.7 481.6L1013.7 481.6L1013.7 481.6L1027.6 481.6L1027.6 481.6L1041.6 481.6L1041.6 481.6L1055.6 481.6L1055.6 480.6L1069.6 480.6L1069.6 481.6L1083.6 481.6L1083.6 481.6L1097.5 481.6L1097.5 480.6L1111.5 480.6L1111.5 481.6L1125.5 481.6L1125.5 477.6L1139.5 477.6L1139.5 481.6L1153.4 481.6L1153.4 480.6L1167.4 480.6L1167.4 481.6L1181.4 481.6L1181.4 478.6L1195.4 478.6L1195.4 481.6L1209.3 481.6L1209.3 480.6L1223.3 480.6L1223.3 480.6L1237.3 480.6L1237.3 480.6L1251.3 480.6L1251.3 480.6L1265.2 480.6L1265.2 477.6L1279.2 477.6L1279.2 480.6L1293.2 480.6L1293.2 475.6L1307.2 475.6L1307.2 481.1L1321.1 481.1L1321.1 481.1L1335.1 481.1L1335.1 481.1L1343.0 481.1L1343 483.6z"/>
<path fill="#cf5b88" d="M356 539.9L356.8 538.9L370.8 538.9L370.8 538.9L384.8 538.9L384.8 538.9L398.7 538.9L398.7 538.9L412.7 538.9L412.7 538.9L426.7 538.9L426.7 538.9L440.7 538.9L440.7 538.9L454.6 538.9L454.6 538.9L468.6 538.9L468.6 538.9L482.6 538.9L482.6 536.4L496.6 536.4L496.6 537.9L510.5 537.9L510.5 536.9L524.5 536.9L524.5 536.9L538.5 536.9L538.5 537.9L552.5 537.9L552.5 536.4L566.4 536.4L566.4 537.9L580.4 537.9L580.4 537.9L594.4 537.9L594.4 537.9L608.4 537.9L608.4 537.9L622.3 537.9L622.3 536.9L636.3 536.9L636.3 537.9L650.3 537.9L650.3 536.9L664.3 536.9L664.3 536.9L678.2 536.9L678.2 536.9L692.2 536.9L692.2 537.9L706.2 537.9L706.2 536.9L720.2 536.9L720.2 537.9L734.2 537.9L734.2 536.9L748.1 536.9L748.1 536.9L762.1 536.9L762.1 536.9L776.1 536.9L776.1 537.9L790.1 537.9L790.1 536.9L804.0 536.9L804.0 535.9L818.0 535.9L818.0 537.9L832.0 537.9L832.0 536.9L846.0 536.9L846.0 536.9L859.9 536.9L859.9 538.9L873.9 538.9L873.9 538.9L887.9 538.9L887.9 536.9L901.9 536.9L901.9 536.9L915.8 536.9L915.8 536.9L929.8 536.9L929.8 535.9L943.8 535.9L943.8 537.9L957.8 537.9L957.8 536.9L971.7 536.9L971.7 537.9L985.7 537.9L985.7 537.9L999.7 537.9L999.7 537.9L1013.7 537.9L1013.7 537.9L1027.6 537.9L1027.6 537.9L1041.6 537.9L1041.6 537.9L1055.6 537.9L1055.6 536.9L1069.6 536.9L1069.6 537.9L1083.6 537.9L1083.6 537.9L1097.5 537.9L1097.5 537.9L1111.5 537.9L1111.5 537.9L1125.5 537.9L1125.5 535.4L1139.5 535.4L1139.5 536.9L1153.4 536.9L1153.4 536.9L1167.4 536.9L1167.4 537.9L1181.4 537.9L1181.4 532.9L1195.4 532.9L1195.4 537.9L1209.3 537.9L1209.3 536.4L1223.3 536.4L1223.3 537.9L1237.3 537.9L1237.3 536.9L1251.3 536.9L1251.3 536.9L1265.2 536.9L1265.2 532.9L1279.2 532.9L1279.2 534.9L1293.2 534.9L1293.2 531.9L1307.2 531.9L1307.2 537.9L1321.1 537.9L1321.1 537.9L1334.5 537.9L1334.5 539.9z"/>
<path fill="#d9614b" d="M356 596.8L356.8 595.8L370.8 595.8L370.8 595.8L384.8 595.8L384.8 595.8L398.7 595.8L398.7 595.8L412.7 595.8L412.7 595.8L426.7 595.8L426.7 595.8L440.7 595.8L440.7 595.8L454.6 595.8L454.6 595.8L468.6 595.8L468.6 595.8L482.6 595.8L482.6 592.8L496.6 592.8L496.6 594.8L510.5 594.8L510.5 592.8L524.5 592.8L524.5 594.3L538.5 594.3L538.5 594.3L552.5 594.3L552.5 594.3L566.4 594.3L566.4 594.3L580.4 594.3L580.4 594.3L594.4 594.3L594.4 593.3L608.4 593.3L608.4 592.3L622.3 592.3L622.3 593.8L636.3 593.8L636.3 594.3L650.3 594.3L650.3 593.6L664.3 593.6L664.3 593.6L678.2 593.6L678.2 593.6L692.2 593.6L692.2 594.3L706.2 594.3L706.2 594.3L720.2 594.3L720.2 594.3L734.2 594.3L734.2 592.3L748.1 592.3L748.1 593.8L762.1 593.8L762.1 590.3L776.1 590.3L776.1 594.3L790.1 594.3L790.1 593.6L804.0 593.6L804.0 592.6L818.0 592.6L818.0 594.3L832.0 594.3L832.0 593.3L846.0 593.3L846.0 593.3L859.9 593.3L859.9 593.8L873.9 593.8L873.9 595.8L887.9 595.8L887.9 594.3L901.9 594.3L901.9 594.3L915.8 594.3L915.8 594.3L929.8 594.3L929.8 593.3L943.8 593.3L943.8 594.3L957.8 594.3L957.8 593.3L971.7 593.3L971.7 594.3L985.7 594.3L985.7 594.3L999.7 594.3L999.7 594.3L1013.7 594.3L1013.7 594.3L1027.6 594.3L1027.6 594.3L1041.6 594.3L1041.6 594.3L1055.6 594.3L1055.6 593.3L1069.6 593.3L1069.6 594.3L1083.6 594.3L1083.6 594.3L1097.5 594.3L1097.5 592.8L1111.5 592.8L1111.5 594.3L1125.5 594.3L1125.5 589.8L1139.5 589.8L1139.5 592.8L1153.4 592.8L1153.4 592.8L1167.4 592.8L1167.4 594.3L1181.4 594.3L1181.4 591.3L1195.4 591.3L1195.4 594.3L1209.3 594.3L1209.3 592.8L1223.3 592.8L1223.3 592.8L1237.3 592.8L1237.3 592.8L1251.3 592.8L1251.3 592.8L1265.2 592.8L1265.2 586.8L1279.2 586.8L1279.2 591.8L1293.2 591.8L1293.2 589.8L1307.2 589.8L1307.2 593.8L1321.1 593.8L1321.1 593.8L1335.1 593.8L1335.1 593.8L1343.0 593.8L1343 596.8z"/>
</g>
<!-- icons -->
<g fill="none" stroke="#101010" stroke-width="2.7" stroke-linecap="butt" stroke-linejoin="miter">
<path d="M10.3 154.8L15.58 159.4L20.86 154.8"/>
<path d="M10.3 174.9L15.58 169.6L20.86 174.9"/>
</g>
<g fill="#101010">
<rect x="45.4" y="157.3" width="19.8" height="3"/>
<rect x="42.6" y="163" width="19.8" height="3"/>
<rect x="39.8" y="168.8" width="19.8" height="3"/>
</g>
<path d="M22.3 215.2L29.85 207.85L37.4 215.2" fill="none" stroke="#fff" stroke-width="2.9"/>
<g fill="none" stroke="#15191e" stroke-width="2.9">
<path d="M22.4 451L29.8 458L37.2 451"/>
<path d="M22.4 507.7L29.8 514.7L37.2 507.7"/>
<path d="M22.4 564.4L29.8 571.4L37.2 564.4"/>
</g>
</svg>
<div id="topshadow"></div>
</body>
</html>
